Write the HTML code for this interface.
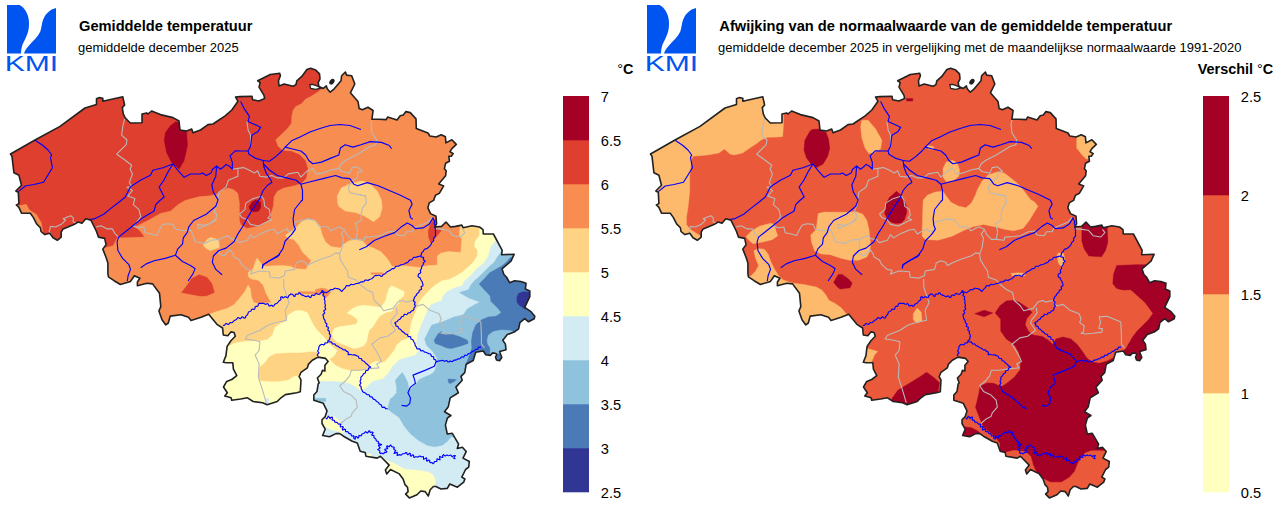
<!DOCTYPE html>
<html lang="nl"><head><meta charset="utf-8"><title>KMI - Gemiddelde temperatuur december 2025</title>
<style>html,body{margin:0;padding:0;background:#fff;}body{width:1280px;height:507px;overflow:hidden;}svg{display:block;}</style>
</head><body>
<svg width="1280" height="507" viewBox="0 0 1280 507" font-family="'Liberation Sans',sans-serif" fill="#000">
<defs><clipPath id="bel"><path d="M10.5 154.0 L35.0 140.0 L60.0 126.4 L85.0 108.0 L96.5 104.6 L96.5 98.8 L99.0 97.6 L102.8 98.3 L102.8 101.3 L122.8 96.8 L124.6 105.0 L122.3 107.6 L123.3 113.9 L125.3 118.0 L130.3 123.0 L142.0 122.7 L142.0 114.0 L146.6 113.0 L148.0 114.0 L151.6 111.0 L160.4 114.6 L173.0 117.6 L179.0 121.0 L180.0 130.0 L186.7 131.0 L191.7 129.0 L193.0 132.7 L200.5 130.0 L208.0 124.6 L213.0 124.0 L225.5 115.6 L231.8 110.0 L238.0 101.3 L235.6 97.0 L240.0 96.6 L252.0 96.3 L252.6 99.7 L259.0 101.0 L264.6 98.5 L264.0 95.3 L259.0 87.1 L260.2 82.7 L257.7 80.8 L270.3 74.5 L279.7 73.2 L280.4 75.8 L278.5 80.8 L279.0 85.9 L284.2 84.0 L293.0 86.2 L296.0 84.6 L296.8 80.8 L301.8 76.4 L306.9 69.5 L310.7 68.2 L315.7 70.1 L319.5 73.9 L320.0 78.9 L318.2 82.7 L318.9 86.5 L323.3 88.4 L326.4 85.9 L327.0 88.4 L330.2 92.2 L333.4 89.7 L341.0 80.8 L341.6 75.8 L345.4 72.0 L346.6 75.1 L351.7 75.8 L354.8 84.0 L350.4 92.8 L358.0 101.6 L359.2 108.6 L362.4 109.8 L368.0 107.3 L373.1 110.5 L371.9 119.3 L378.8 119.3 L386.3 119.6 L387.6 117.0 L397.0 119.9 L400.2 115.8 L403.3 114.9 L405.9 111.6 L410.3 112.6 L416.0 118.9 L416.3 128.4 L428.0 133.0 L429.8 136.0 L436.2 137.0 L441.2 134.7 L445.4 136.8 L445.9 142.9 L451.9 139.7 L456.3 144.4 L451.9 148.6 L450.0 151.7 L453.2 153.6 L451.3 156.2 L448.8 156.2 L449.4 161.2 L445.6 163.2 L444.4 168.8 L446.2 170.7 L445.6 175.8 L438.7 184.0 L443.7 185.9 L439.3 193.4 L435.5 195.3 L433.6 200.4 L429.2 202.9 L427.9 207.9 L430.5 213.6 L436.0 216.3 L436.6 223.9 L434.7 227.0 L441.6 226.4 L446.0 222.0 L450.5 227.0 L455.5 226.4 L461.8 225.1 L463.1 227.7 L471.9 225.8 L479.5 227.0 L483.0 229.6 L483.3 234.0 L493.4 234.0 L502.2 250.4 L501.6 254.8 L514.2 254.2 L511.0 261.1 L502.0 268.8 L503.9 274.5 L506.4 277.0 L509.6 282.7 L514.6 280.8 L520.9 281.5 L526.0 283.3 L525.4 289.0 L529.8 290.9 L529.8 296.6 L524.7 307.3 L531.0 311.7 L534.8 316.2 L534.2 318.7 L528.5 321.8 L524.7 318.7 L519.9 322.6 L518.6 328.9 L514.2 332.1 L507.3 334.6 L502.8 340.3 L505.4 344.1 L506.0 349.7 L499.7 351.6 L500.5 354.0 L501.8 357.5 L499.5 360.8 L496.5 360.0 L495.5 357.0 L496.8 354.5 L495.9 353.5 L492.7 352.9 L490.2 355.4 L485.8 354.8 L483.3 351.0 L475.7 352.3 L473.2 360.5 L466.2 364.3 L464.7 372.6 L461.0 376.4 L462.2 380.2 L455.9 387.1 L458.4 392.8 L450.2 397.9 L448.3 406.7 L444.5 411.7 L450.9 415.5 L447.3 418.2 L445.4 425.1 L447.3 434.0 L452.3 433.3 L458.6 444.1 L457.3 448.5 L462.4 447.2 L466.2 451.6 L463.0 458.1 L469.3 461.5 L468.7 467.2 L465.6 469.5 L461.8 477.1 L464.9 479.0 L463.7 482.1 L457.4 487.2 L449.8 484.0 L447.3 488.4 L441.0 489.0 L435.9 486.5 L433.4 486.5 L430.2 489.7 L428.3 496.0 L425.2 491.6 L420.8 491.0 L417.0 494.7 L409.4 497.9 L405.6 494.1 L408.1 491.6 L407.5 487.2 L405.0 484.6 L403.1 479.0 L399.3 473.9 L390.5 469.5 L386.7 473.9 L385.4 470.1 L389.2 465.1 L380.4 456.2 L377.2 458.1 L365.9 456.2 L365.2 452.5 L360.2 451.2 L357.3 443.1 L352.3 441.2 L343.5 436.2 L339.7 433.6 L335.9 433.6 L329.6 436.8 L322.6 435.5 L325.2 429.2 L322.0 423.5 L322.0 419.7 L325.2 416.6 L327.0 410.9 L323.3 403.3 L313.8 400.2 L313.8 395.1 L317.0 391.4 L318.2 383.8 L319.2 383.0 L317.4 378.0 L321.1 374.2 L322.4 370.4 L324.9 371.0 L324.9 365.3 L328.1 361.5 L325.6 358.4 L318.0 357.1 L312.3 360.3 L308.5 364.1 L307.3 367.9 L301.0 372.3 L299.1 376.7 L301.0 379.8 L300.3 391.8 L296.7 392.7 L285.4 394.6 L281.0 397.8 L277.2 401.5 L267.1 404.7 L262.6 402.8 L253.2 401.5 L247.5 397.8 L240.6 399.0 L231.7 400.3 L231.1 397.8 L224.8 395.9 L227.3 392.7 L223.5 387.0 L226.7 381.4 L231.7 379.5 L236.8 375.7 L233.4 369.1 L232.8 362.8 L226.5 362.8 L223.3 362.2 L225.9 355.9 L227.1 346.4 L230.9 340.7 L235.3 336.3 L234.1 332.5 L230.9 331.9 L227.8 335.7 L223.3 335.0 L222.6 328.0 L216.9 324.3 L208.7 314.2 L201.1 317.3 L191.0 320.5 L188.5 317.3 L180.9 314.8 L170.2 316.1 L168.3 323.0 L165.8 324.9 L162.0 319.8 L158.9 311.0 L160.8 306.6 L159.5 293.3 L152.6 283.9 L146.9 283.2 L137.4 285.8 L137.4 282.0 L139.9 278.2 L134.3 275.7 L130.5 281.4 L120.4 284.5 L114.1 280.7 L108.4 276.9 L107.9 273.7 L107.9 263.0 L106.0 257.3 L102.8 249.1 L106.0 244.7 L104.7 238.4 L98.4 237.1 L96.5 231.5 L90.9 220.1 L85.8 218.8 L82.0 223.2 L78.2 222.0 L75.1 223.9 L63.1 228.9 L61.2 232.1 L61.2 237.1 L57.4 240.3 L53.0 237.8 L49.8 233.3 L44.8 234.6 L41.0 231.5 L40.4 227.7 L36.6 223.9 L33.4 217.6 L30.3 213.2 L21.5 213.2 L18.9 207.4 L16.4 204.9 L18.9 203.6 L18.3 192.3 L15.8 191.0 L21.5 185.3 L18.9 175.2 L13.9 172.7 L12.0 156.3Z"/></clipPath></defs>
<rect width="1280" height="507" fill="#fff"/>
<g transform="translate(0,0)" fill="#0055f0">
<path d="M7 5 L19.5 5 C24 7 28.5 13 29 22 C29.3 30 27.5 34 25 39.5 C22.5 44 21.3 47 21 53.5 L7 53.5 Z"/>
<path d="M56 8 C50 9.5 45.5 13.5 43 20 C41.5 24 41.6 28 40.3 31.5 C38 36.5 33 41 29 45.5 C26.5 48.5 24.8 50.5 24 53.5 L56 53.5 Z"/>
<text x="4.7" y="70.6" font-family="'Liberation Sans',sans-serif" font-size="21.2" textLength="53.4" lengthAdjust="spacingAndGlyphs" fill="#0055f0">KMI</text>
</g><g transform="translate(640,0)" fill="#0055f0">
<path d="M7 5 L19.5 5 C24 7 28.5 13 29 22 C29.3 30 27.5 34 25 39.5 C22.5 44 21.3 47 21 53.5 L7 53.5 Z"/>
<path d="M56 8 C50 9.5 45.5 13.5 43 20 C41.5 24 41.6 28 40.3 31.5 C38 36.5 33 41 29 45.5 C26.5 48.5 24.8 50.5 24 53.5 L56 53.5 Z"/>
<text x="4.7" y="70.6" font-family="'Liberation Sans',sans-serif" font-size="21.2" textLength="53.4" lengthAdjust="spacingAndGlyphs" fill="#0055f0">KMI</text>
</g>
<text x="79" y="30.8" font-size="14.67" font-weight="bold">Gemiddelde temperatuur</text>
<text x="78" y="51.8" font-size="12.96">gemiddelde december 2025</text>
<text x="719.3" y="30.8" font-size="14.67" font-weight="bold">Afwijking van de normaalwaarde van de gemiddelde temperatuur</text>
<text x="718" y="51.8" font-size="12.96">gemiddelde december 2025 in vergelijking met de maandelijkse normaalwaarde 1991-2020</text>
<text x="617.2" y="73.8" font-size="14.4" font-weight="bold"><tspan font-weight="normal">°</tspan>C</text>
<text x="1197.8" y="73.8" font-size="14.4" font-weight="bold">Verschil <tspan font-weight="normal">°</tspan>C</text>
<g transform="translate(0,0)"><g clip-path="url(#bel)"><rect x="0" y="60" width="640" height="447" fill="#de3f2e"/><path d="M330.0 60.0 L323.3 88.4 L320.8 89.7 L315.7 93.4 L310.7 96.6 L305.6 99.1 L301.8 103.5 L295.5 106.7 L293.0 110.5 L291.7 116.8 L291.5 123.0 L288.0 128.0 L283.2 132.7 L275.7 139.7 L278.1 146.3 L282.8 150.3 L291.5 151.0 L299.4 154.2 L305.7 160.5 L308.0 168.4 L306.5 177.9 L301.7 183.4 L294.6 185.7 L283.6 188.1 L277.3 191.3 L274.1 196.8 L273.3 206.2 L271.0 214.1 L270.7 219.6 L260.7 225.8 L246.9 228.4 L240.6 224.6 L239.4 219.7 L239.4 203.1 L237.9 193.6 L233.9 189.7 L228.4 188.1 L222.1 190.5 L215.8 194.4 L207.9 196.0 L200.0 196.5 L192.0 198.5 L184.9 200.5 L177.8 204.7 L170.7 211.0 L160.4 213.4 L149.4 219.7 L135.2 226.8 L139.9 230.8 L144.7 237.1 L117.1 237.9 L113.1 245.7 L103.7 248.1 L95.0 255.0 L95.0 520.0 L600.0 520.0 L600.0 50.0Z" fill="#f88d52" stroke="#f88d52" stroke-width="0.4"/><path d="M15.0 205.0 L20.0 205.5 L26.3 204.2 L29.0 209.5 L36.5 214.5 L41.5 223.0 L43.0 233.0 L30.0 232.0 L15.0 214.0Z" fill="#f88d52" stroke="#f88d52" stroke-width="0.4"/><path d="M181.5 292.5 L186.7 286.0 L191.7 278.5 L199.2 274.7 L206.8 277.2 L211.8 283.5 L214.4 292.5 L206.0 296.0 L199.9 296.0 L193.0 294.8Z" fill="#de3f2e" stroke="#de3f2e" stroke-width="0.4"/><path d="M433.3 220.0 L430.2 224.7 L428.3 231.0 L428.6 237.3 L430.7 242.8 L434.1 238.9 L440.4 231.8 L441.2 230.2 L436.0 228.6 L437.0 223.0 L436.4 218.0Z" fill="#de3f2e" stroke="#de3f2e" stroke-width="0.4"/><path d="M175.4 122.0 L170.4 125.7 L165.4 132.7 L164.2 140.2 L166.7 152.7 L171.7 162.8 L179.2 169.0 L184.2 160.3 L187.5 145.2 L186.7 134.0 L186.9 128.0 L180.0 128.0 L179.4 122.0Z" fill="#a50026" stroke="#a50026" stroke-width="0.4"/><path d="M248.9 207.0 L252.0 202.3 L256.0 199.6 L260.7 202.3 L260.7 207.8 L258.4 211.3 L253.6 211.8 L250.2 210.2Z" fill="#a50026" stroke="#a50026" stroke-width="0.4"/><path d="M203.2 245.0 L207.1 239.4 L210.3 237.5 L215.8 238.8 L219.4 241.3 L218.9 247.6 L210.3 250.8 L205.5 248.1Z" fill="#fed384" stroke="#fed384" stroke-width="0.4"/><path d="M361.7 181.0 L357.7 181.8 L349.0 184.2 L341.2 188.1 L337.2 196.0 L337.5 202.0 L338.8 206.3 L345.1 211.0 L355.4 212.6 L364.0 215.8 L373.5 221.8 L379.8 216.6 L382.2 207.9 L381.4 200.0 L377.4 191.3 L371.1 185.0 L365.6 181.8Z" fill="#fed384" stroke="#fed384" stroke-width="0.4"/><path d="M209.5 314.2 L215.8 311.8 L226.8 308.6 L233.9 304.7 L239.4 298.4 L245.0 291.3 L248.1 285.0 L250.5 288.9 L251.3 296.8 L253.6 302.3 L259.1 303.9 L271.0 302.3 L266.2 293.7 L263.1 285.0 L258.4 280.3 L250.5 278.7 L248.1 276.3 L248.5 272.0 L252.8 269.4 L255.2 262.3 L257.1 258.0 L260.7 263.1 L263.1 266.2 L282.0 265.5 L290.7 266.2 L294.6 268.6 L305.7 269.4 L311.2 260.7 L307.3 256.8 L302.5 252.1 L298.6 245.0 L293.8 239.4 L288.3 238.6 L285.2 235.5 L290.7 231.5 L296.2 227.6 L300.9 222.1 L308.0 218.9 L315.1 220.5 L319.9 226.0 L322.2 234.7 L325.4 241.8 L330.9 246.5 L340.4 248.1 L342.7 245.0 L348.3 241.0 L355.4 239.4 L362.5 241.0 L367.2 245.7 L373.5 248.1 L381.4 252.1 L387.7 259.1 L391.5 265.5 L393.1 266.6 L404.2 265.8 L419.9 267.4 L426.2 265.8 L437.3 265.0 L437.3 256.3 L440.4 253.2 L448.3 251.6 L460.9 252.4 L461.8 239.0 L459.3 235.2 L459.9 227.7 L459.9 215.0 L600.0 215.0 L600.0 520.0 L100.0 520.0Z" fill="#fed384" stroke="#fed384" stroke-width="0.4"/><path d="M298.6 291.8 L316.7 291.8 L316.7 293.7 L298.6 293.7Z" fill="#f88d52" stroke="#f88d52" stroke-width="0.4"/><path d="M315.1 289.7 L321.5 288.1 L326.2 288.9 L330.9 292.1 L327.8 296.0 L324.6 298.4 L322.2 293.7 L316.7 293.7Z" fill="#f88d52" stroke="#f88d52" stroke-width="0.4"/><path d="M371.1 272.8 L383.0 272.8 L383.0 274.2 L371.1 274.2Z" fill="#f88d52" stroke="#f88d52" stroke-width="0.4"/><path d="M391.8 285.8 L397.3 288.3 L404.3 291.7 L403.6 295.9 L400.8 298.6 L398.0 300.0 L399.4 302.8 L395.3 306.9 L391.8 311.1 L384.9 313.1 L379.4 316.6 L376.6 320.7 L373.2 326.3 L369.0 330.4 L367.7 335.2 L367.0 340.8 L364.2 345.6 L358.7 347.7 L353.8 348.4 L347.6 346.0 L340.7 343.5 L335.9 341.5 L333.1 338.0 L332.2 333.2 L333.8 329.0 L338.0 327.0 L347.6 325.6 L355.9 324.2 L358.0 321.4 L356.6 318.7 L351.8 315.2 L346.9 313.1 L351.8 309.0 L357.3 306.2 L364.2 305.3 L372.5 306.2 L380.8 307.6 L382.2 305.6 L385.6 300.7 L387.0 294.5 L389.1 288.3Z" fill="#ffffbf" stroke="#ffffbf" stroke-width="0.4"/><path d="M222.0 349.0 L226.0 348.0 L233.9 343.3 L242.6 341.8 L252.1 341.0 L260.7 341.0 L267.8 339.4 L272.6 334.7 L274.9 327.6 L280.4 323.6 L286.0 321.3 L288.3 315.0 L294.6 311.0 L300.9 310.2 L307.3 312.6 L310.4 318.9 L313.6 325.2 L318.3 331.5 L321.5 334.7 L326.2 339.5 L327.8 342.6 L337.2 350.5 L334.1 356.0 L329.3 359.2 L335.6 365.5 L342.0 368.6 L351.4 371.0 L360.9 370.2 L366.3 368.8 L372.6 362.5 L376.4 361.3 L384.0 362.5 L389.3 356.8 L394.6 349.8 L396.7 344.9 L401.5 340.8 L408.4 338.0 L409.8 332.5 L411.2 322.8 L413.9 315.9 L416.7 309.0 L418.8 302.8 L422.9 297.3 L429.1 290.4 L434.6 285.5 L442.0 280.8 L449.9 279.2 L456.2 276.0 L462.5 272.1 L468.8 266.6 L473.6 261.8 L477.5 255.5 L477.5 250.0 L474.4 246.6 L475.1 241.5 L479.5 235.2 L479.5 228.9 L480.0 215.0 L600.0 215.0 L600.0 520.0 L150.0 520.0 L150.0 360.0Z" fill="#ffffbf" stroke="#ffffbf" stroke-width="0.4"/><path d="M259.9 367.1 L264.7 363.1 L269.4 356.8 L275.7 353.7 L288.3 352.9 L300.9 352.9 L310.4 351.8 L316.7 352.1 L319.0 356.0 L310.0 363.9 L303.0 371.8 L300.0 375.7 L294.6 375.7 L288.3 379.7 L278.9 381.3 L267.8 381.3 L259.9 380.5 L258.4 374.2Z" fill="#fed384" stroke="#fed384" stroke-width="0.4"/><path d="M305.0 381.0 L320.8 381.3 L328.3 381.3 L340.9 381.9 L348.5 383.2 L353.6 385.7 L358.6 389.5 L361.1 391.4 L364.9 388.8 L372.6 381.5 L382.7 378.9 L389.0 372.6 L392.8 366.3 L399.1 360.0 L407.6 357.3 L415.1 355.4 L418.9 350.4 L416.4 342.8 L417.7 335.2 L420.8 326.4 L424.6 317.6 L427.8 310.0 L430.2 305.2 L435.7 302.8 L442.0 300.5 L442.8 296.5 L446.7 291.8 L454.6 287.9 L462.5 285.5 L464.1 281.5 L470.4 276.0 L477.5 268.1 L483.8 263.4 L487.8 257.1 L490.1 250.0 L490.9 246.6 L495.3 241.5 L500.0 230.0 L600.0 230.0 L600.0 520.0 L305.0 520.0Z" fill="#d3ecf4" stroke="#d3ecf4" stroke-width="0.4"/><path d="M265.5 398.6 L268.6 398.6 L268.8 406.0 L265.0 406.0Z" fill="#d3ecf4" stroke="#d3ecf4" stroke-width="0.4"/><path d="M325.8 416.6 L333.4 416.0 L337.8 419.1 L340.9 423.5 L342.2 428.0 L340.9 432.4 L337.2 431.1 L330.9 429.8 L325.8 426.7 L321.0 424.2 L321.0 418.0Z" fill="#ffffbf" stroke="#ffffbf" stroke-width="0.4"/><path d="M340.0 424.5 L345.0 427.0 L345.7 430.2 L342.5 433.3 L339.0 433.5Z" fill="#ffffbf" stroke="#ffffbf" stroke-width="0.4"/><path d="M367.0 454.0 L371.5 454.0 L371.5 457.5 L366.0 457.5Z" fill="#ffffbf" stroke="#ffffbf" stroke-width="0.4"/><path d="M380.0 456.0 L388.0 461.3 L394.3 463.2 L400.6 467.0 L405.6 469.5 L415.7 470.1 L425.8 471.4 L430.9 473.3 L434.0 476.4 L435.3 480.9 L434.7 485.3 L434.0 488.0 L430.0 491.0 L428.3 500.0 L400.0 505.0 L380.0 480.0Z" fill="#ffffbf" stroke="#ffffbf" stroke-width="0.4"/><path d="M500.9 252.3 L497.2 257.3 L494.1 262.6 L489.3 266.6 L484.6 271.3 L479.9 276.0 L474.4 280.8 L470.4 285.5 L468.8 289.4 L459.4 292.6 L468.8 298.1 L479.9 302.1 L473.6 305.2 L467.3 309.1 L463.3 314.7 L453.8 317.0 L448.3 319.4 L440.4 322.6 L431.8 324.9 L429.0 330.2 L424.6 339.0 L426.5 345.3 L432.8 351.6 L437.2 358.6 L437.0 363.0 L436.3 366.3 L434.4 371.4 L430.7 374.5 L423.1 377.7 L419.3 379.6 L415.5 384.6 L410.5 389.0 L408.6 388.4 L407.9 382.7 L404.8 376.4 L402.3 372.6 L399.1 375.8 L395.3 380.2 L396.6 387.1 L396.6 392.8 L393.4 396.6 L390.3 399.1 L388.4 405.4 L387.8 409.2 L392.8 413.0 L399.1 417.4 L404.4 426.4 L410.7 434.0 L418.2 440.3 L427.1 445.3 L434.6 446.8 L442.2 445.3 L447.3 441.5 L451.0 437.1 L470.0 437.0 L600.0 437.0 L600.0 240.0 L505.0 240.0Z" fill="#8fc3dd" stroke="#8fc3dd" stroke-width="0.4"/><path d="M312.0 398.3 L325.8 398.3 L325.8 401.5 L312.0 401.5Z" fill="#8fc3dd" stroke="#8fc3dd" stroke-width="0.4"/><path d="M516.0 250.0 L513.8 256.3 L509.8 257.9 L506.7 261.8 L502.0 265.8 L496.4 268.9 L489.3 272.9 L484.6 278.4 L479.1 283.9 L486.2 291.8 L490.1 295.7 L490.9 301.3 L497.2 307.6 L501.2 312.3 L499.7 313.8 L495.9 316.3 L488.3 316.9 L482.0 319.5 L475.7 325.1 L472.6 332.7 L471.3 341.5 L471.9 347.9 L470.7 351.6 L468.8 356.7 L466.9 361.7 L465.0 366.0 L480.0 370.0 L600.0 370.0 L600.0 250.0Z" fill="#4a7bb7" stroke="#4a7bb7" stroke-width="0.4"/><path d="M487.1 340.3 L488.3 335.2 L493.4 331.5 L500.9 329.9 L508.5 330.2 L512.0 331.0 L520.0 340.0 L510.0 353.0 L499.7 353.5 L492.7 354.0 L490.2 355.5 L490.2 347.9 L487.7 344.1Z" fill="#8fc3dd" stroke="#8fc3dd" stroke-width="0.4"/><path d="M434.1 340.3 L437.9 334.0 L441.6 331.5 L443.5 334.0 L453.0 334.6 L460.6 337.1 L467.5 340.3 L468.1 343.4 L460.6 346.0 L451.7 348.5 L446.7 347.9 L440.4 345.3 L435.3 343.4Z" fill="#4a7bb7" stroke="#4a7bb7" stroke-width="0.4"/><path d="M448.3 378.9 L456.5 379.6 L453.4 382.1 L449.6 383.7 L448.1 381.5Z" fill="#4a7bb7" stroke="#4a7bb7" stroke-width="0.4"/><path d="M516.9 297.3 L518.5 293.4 L523.2 291.8 L528.8 292.0 L532.0 292.0 L532.0 300.0 L526.0 309.0 L524.0 308.4 L519.3 305.2 L516.9 302.1Z" fill="#313695" stroke="#313695" stroke-width="0.4"/><path d="M124.6 118.9 L122.8 126.4 L121.6 135.2 L127.0 140.0 L126.2 144.7 L116.7 154.2 L124.6 159.7 L131.7 165.2 L130.1 169.2 L132.5 173.9 L129.3 182.6 L131.7 186.5 L127.0 187.3 L132.5 190.5 L127.8 196.0 L134.9 198.4 L133.3 204.7 L138.8 209.4 L140.7 216.6 L133.8 226.4 L138.8 227.7 L143.9 227.0 L145.1 232.7 L151.4 234.0 L156.5 235.5 L158.9 230.8 L162.0 225.2 L166.7 223.7 L173.1 224.4 L175.4 229.2 L184.1 230.8 L190.4 230.0 L193.6 236.3 L195.1 241.8 L204.6 243.4 L210.9 240.2 L218.9 239.4 L227.6 235.5 L230.8 238.6 L236.3 239.4 L239.4 242.6 L247.3 240.2 L250.5 234.7 L253.6 237.9 L259.9 233.9 L269.4 230.0 L274.1 229.2 L277.3 233.9 L282.8 230.8 L287.5 228.4 L288.3 231.5 L294.6 230.8 L294.6 222.1 L300.9 220.5 L308.8 218.9 L315.1 220.5 L319.9 226.8 L327.8 226.8 L330.9 230.8 L338.8 226.8 L344.3 229.2 L346.7 234.7 L351.4 239.4 L356.2 239.4 L364.0 240.2 L364.8 237.1 L374.2 236.5 L380.5 235.7 L388.4 231.8 L394.7 231.0 L397.1 235.0 L404.2 235.7 L406.5 231.8 L412.1 231.8 L413.6 228.6 L419.9 225.5 L427.8 222.3 L431.8 217.6" fill="none" stroke="#b9b9b9" stroke-width="1.1" stroke-linejoin="round"/><path d="M50.5 226.4 L55.5 227.0 L61.8 223.9 L65.6 220.1 L63.1 218.8 L70.7 215.7 L73.2 217.6 L73.2 222.0 L75.7 222.6" fill="none" stroke="#b9b9b9" stroke-width="1.1" stroke-linejoin="round"/><path d="M50.5 226.4 L49.2 231.5 L51.7 235.2" fill="none" stroke="#b9b9b9" stroke-width="1.1" stroke-linejoin="round"/><path d="M95.9 227.0 L100.9 225.8 L107.3 228.9 L112.3 228.9 L114.8 233.3 L118.6 237.1" fill="none" stroke="#b9b9b9" stroke-width="1.1" stroke-linejoin="round"/><path d="M246.9 121.4 L248.1 130.2 L250.6 135.2 L250.6 145.2" fill="none" stroke="#b9b9b9" stroke-width="1.1" stroke-linejoin="round"/><path d="M232.3 169.2 L237.9 168.4 L243.4 167.6 L248.9 170.0 L254.4 173.1 L257.6 170.8 L259.9 176.3 L266.2 177.1 L271.8 175.5 L277.3 177.9 L283.6 177.9 L288.3 173.9 L297.8 172.3 L300.9 177.1 L307.3 170.8 L312.8 168.4 L315.9 173.9 L323.0 173.1 L330.9 170.0 L338.8 168.4 L341.2 163.7 L346.7 159.7 L356.2 155.0 L364.0 150.3 L370.3 146.3 L375.9 144.7 L376.7 140.0 L372.0 133.0 L371.0 125.0 L372.0 119.5" fill="none" stroke="#b9b9b9" stroke-width="1.1" stroke-linejoin="round"/><path d="M338.8 168.4 L342.0 171.5 L349.8 173.1 L352.2 167.6 L357.7 166.8 L362.5 171.5 L357.7 172.3 L357.7 177.1 L351.4 181.8 L348.3 187.3 L349.8 192.8 L357.7 194.4 L365.6 196.0 L366.4 203.1 L362.5 207.8 L360.9 215.7 L361.7 219.7 L355.4 223.7 L357.7 231.5 L356.2 239.4" fill="none" stroke="#b9b9b9" stroke-width="1.1" stroke-linejoin="round"/><path d="M237.9 169.2 L237.9 176.3 L228.4 180.2 L226.0 187.3 L218.9 192.1 L218.1 196.8 L217.0 205.0 L214.2 211.8 L216.6 214.2 L215.8 220.5 L209.5 223.7 L204.7 226.0 L198.3 228.4 L197.5 224.4 L204.6 225.2 L210.9 222.9 L216.4 218.1" fill="none" stroke="#b9b9b9" stroke-width="1.1" stroke-linejoin="round"/><path d="M239.4 214.1 L245.0 209.4 L245.7 203.1 L252.1 199.1 L261.5 196.0 L263.9 199.9 L264.7 206.2 L269.4 209.4 L270.2 215.7 L267.8 218.1 L271.8 219.7 L269.4 220.5 L258.4 226.0 L250.5 224.4 L247.3 219.7 L241.8 217.4 L239.4 214.1" fill="none" stroke="#b9b9b9" stroke-width="1.1" stroke-linejoin="round"/><path d="M218.9 239.4 L219.7 247.3 L218.9 253.6 L223.7 256.0 L230.0 249.7 L233.1 253.6 L233.9 256.8 L239.4 259.9 L241.8 264.7 L247.3 269.4 L252.1 270.2 L250.5 274.1 L259.1 271.0 L269.4 271.8 L270.2 277.3 L278.9 278.1 L284.4 275.7 L285.2 271.0 L294.6 269.4 L296.2 263.1 L300.9 260.7 L305.7 262.3 L307.3 265.5 L313.6 262.3 L321.5 259.1 L330.9 256.0 L335.6 252.9 L339.6 253.6 L342.0 248.1 L343.5 237.9 L341.2 233.9 L344.3 230.0" fill="none" stroke="#b9b9b9" stroke-width="1.1" stroke-linejoin="round"/><path d="M339.6 253.6 L340.4 259.9 L344.3 266.2 L347.5 271.0 L348.3 277.3 L356.2 280.0 L360.4 284.7 L366.3 289.4 L372.6 292.6 L374.2 300.5 L380.5 306.0 L383.7 310.7 L393.1 308.4 L397.9 302.1 L402.6 300.5 L405.7 302.1 L412.8 300.5 L416.8 306.0 L423.1 304.4 L429.4 309.9 L439.1 313.8 L441.0 318.8 L439.7 322.6 L444.2 325.8 L443.5 332.1 L441.0 333.3 L445.4 334.0 L453.0 333.3 L461.8 332.1 L462.5 328.9 L458.7 328.3 L460.6 322.6 L459.3 316.9 L466.9 316.3 L473.2 318.8 L480.8 322.0 L481.4 335.2 L481.4 344.1 L484.5 347.8" fill="none" stroke="#b9b9b9" stroke-width="1.1" stroke-linejoin="round"/><path d="M396.3 307.6 L397.1 313.1 L391.5 320.2 L390.5 322.7 L395.5 330.2 L387.7 336.3 L379.8 337.9 L371.9 344.2 L375.9 350.5 L379.8 357.6 L381.4 361.5 L376.7 363.9 L379.0 367.9 L370.3 368.6 L359.3 370.2 L351.4 370.2 L349.8 375.7 L345.1 381.3 L339.7 385.7 L343.5 391.4 L351.0 395.1 L356.1 400.2 L357.3 407.1 L352.3 412.8 L351.0 416.6 L346.0 419.1 L340.9 423.5" fill="none" stroke="#b9b9b9" stroke-width="1.1" stroke-linejoin="round"/><path d="M283.6 278.9 L283.9 287.6 L286.5 295.1 L289.0 302.7 L285.2 310.2 L286.5 320.2 L275.2 322.7 L267.7 325.2 L260.1 330.2 L247.6 335.2 L245.1 339.0 L253.9 340.2 L259.9 341.8 L259.1 350.5 L255.2 355.2 L259.1 363.9 L258.4 377.3 L261.5 386.8 L263.9 394.7 L266.2 402.6" fill="none" stroke="#b9b9b9" stroke-width="1.1" stroke-linejoin="round"/><path d="M435.7 228.6 L442.0 229.4 L448.3 230.2 L453.1 235.7 L460.9 237.0 L464.9 232.6 L462.5 229.4" fill="none" stroke="#b9b9b9" stroke-width="1.1" stroke-linejoin="round"/><path d="M360.0 194.7 L366.3 196.3" fill="none" stroke="#b9b9b9" stroke-width="1.1" stroke-linejoin="round"/><path d="M35.0 140.2 L42.6 145.2 L48.0 150.0 L51.7 155.0 L50.5 157.6 L52.4 167.7 L48.0 175.0 L43.5 182.2 L34.0 184.5 L25.2 186.0 L18.3 191.6" fill="none" stroke="#0000ff" stroke-width="1.15" stroke-linejoin="round"/><path d="M240.6 101.4 L244.4 108.9 L249.4 116.4 L248.1 121.4 L260.7 127.2 L258.1 131.4 L251.9 135.2 L251.3 140.0 L250.5 146.3 L248.1 151.0 L248.9 154.2 L255.2 158.1 L263.1 160.5" fill="none" stroke="#0000ff" stroke-width="1.15" stroke-linejoin="round"/><path d="M248.1 151.0 L241.0 151.0 L235.5 150.7 L230.0 155.8 L232.3 162.1 L232.3 169.2 L229.2 166.0 L226.0 164.4 L223.7 166.8 L220.5 169.2 L216.6 166.0 L212.6 169.2 L211.0 173.1 L206.3 175.5 L202.4 173.1 L200.0 174.0 L190.5 174.0 L184.2 177.3 L177.9 170.3 L172.9 164.0 L162.9 167.8 L152.9 170.3 L150.4 175.3 L140.4 180.3 L132.8 185.3 L130.3 187.0 L125.3 197.0 L117.9 203.0 L111.5 207.9 L103.7 214.2 L94.2 218.9 L87.9 219.7" fill="none" stroke="#0000ff" stroke-width="1.15" stroke-linejoin="round"/><path d="M172.9 164.0 L168.0 172.0 L164.0 180.0 L159.1 187.0 L164.2 197.0 L160.4 200.0 L155.7 204.7 L154.1 211.0 L143.1 217.4 L133.6 225.2 L125.7 231.5 L118.6 237.1 L117.1 241.8 L117.9 250.5 L122.6 258.4 L128.9 264.7 L130.5 269.4 L128.1 275.7 L127.3 281.0" fill="none" stroke="#0000ff" stroke-width="1.15" stroke-linejoin="round"/><path d="M216.6 166.8 L215.8 176.3 L211.8 185.0 L213.4 192.1 L218.1 199.9 L215.8 206.2 L206.2 214.2 L193.6 220.5 L188.8 226.8 L187.3 232.3 L183.3 237.9 L182.5 244.2 L177.8 248.9 L175.4 255.2 L182.5 261.5 L190.4 265.5 L195.1 268.6 L192.8 274.1 L188.0 281.0" fill="none" stroke="#0000ff" stroke-width="1.15" stroke-linejoin="round"/><path d="M175.4 255.2 L165.2 258.4 L154.1 260.7 L146.2 263.9 L140.7 267.8" fill="none" stroke="#0000ff" stroke-width="1.15" stroke-linejoin="round"/><path d="M263.1 160.5 L269.4 161.3 L275.7 156.6 L282.0 151.0 L285.2 147.1 L291.5 140.8 L300.0 137.0 L310.0 132.0 L320.0 128.5 L330.0 125.5 L340.0 124.5 L350.0 125.5 L361.0 129.5" fill="none" stroke="#0000ff" stroke-width="1.15" stroke-linejoin="round"/><path d="M285.2 147.1 L291.5 148.7 L300.9 151.0 L305.7 155.0 L308.8 160.5 L312.8 163.7 L321.5 162.1 L330.9 158.1 L338.8 155.0 L340.4 147.9 L345.1 144.7 L353.0 147.1 L360.9 144.7 L370.3 141.6 L381.4 142.4 L389.3 145.5 L391.6 148.7" fill="none" stroke="#0000ff" stroke-width="1.15" stroke-linejoin="round"/><path d="M263.1 160.5 L263.9 166.8 L266.2 173.1 L271.0 180.2 L271.8 182.6 L267.8 185.0 L263.1 190.5 L259.9 198.4 L253.6 207.8 L247.3 218.1 L242.6 226.8 L237.9 233.9 L233.9 241.8 L226.0 248.1 L218.9 250.5 L213.4 256.0 L212.3 262.3 L215.8 269.4 L222.1 274.7" fill="none" stroke="#0000ff" stroke-width="1.15" stroke-linejoin="round"/><path d="M263.5 164.0 L269.4 170.0 L277.3 175.5 L286.8 177.9 L296.2 180.2 L300.9 184.2 L310.4 181.8 L323.0 178.6 L335.6 175.5 L342.0 177.9 L349.8 178.6 L353.8 184.2 L357.7 185.7 L367.2 182.6 L378.2 185.7 L389.3 190.5 L399.4 194.7 L410.5 200.3 L412.1 204.2 L408.9 210.5 L410.5 217.6 L412.8 219.2" fill="none" stroke="#0000ff" stroke-width="1.15" stroke-linejoin="round"/><path d="M300.9 184.2 L302.5 190.5 L302.5 200.0 L300.9 201.5 L294.6 209.5 L293.1 218.9 L293.8 225.2 L295.4 229.2 L291.5 234.7 L285.2 241.0 L282.8 248.9 L277.3 256.8 L269.4 260.7 L263.1 264.7 L262.3 268.6" fill="none" stroke="#0000ff" stroke-width="1.15" stroke-linejoin="round"/><path d="M433.3 217.6 L429.4 223.9 L423.1 227.9 L415.2 228.6 L412.1 225.5 L407.3 223.1 L401.0 227.1 L394.7 232.6 L383.7 236.5 L374.2 240.5 L366.3 246.8 L359.3 249.7" fill="none" stroke="#0000ff" stroke-width="1.15" stroke-linejoin="round"/><path d="M433.3 217.6 L433.2 218.5 L433.3 219.3 L433.8 220.0 L434.4 220.7 L434.6 221.4 L434.5 222.3 L434.2 223.2 L434.3 224.0 L434.8 224.7 L435.2 225.5 L435.3 226.4 L435.1 227.3 L435.1 228.2 L435.2 229.0 L435.3 229.9 L435.5 230.7 L435.6 231.6 L435.5 232.5 L435.4 233.4 L435.5 234.1 L435.5 235.0 L435.5 235.9 L435.1 236.7 L434.4 237.3 L433.8 238.0 L433.6 238.8 L433.7 239.8 L433.7 240.7 L433.1 241.3 L432.4 241.9 L431.8 242.5 L431.4 243.2 L431.2 244.0 L430.8 244.8 L430.3 245.4 L429.8 246.1 L429.3 246.7 L428.6 247.1 L428.0 247.7 L427.4 248.3 L426.7 248.8 L425.9 248.9 L425.0 249.1 L424.3 249.5 L423.8 250.3 L423.5 250.9 L423.1 251.6 L422.3 252.2 L421.7 252.8 L421.4 253.6 L421.3 254.5 L421.1 255.3 L420.5 256.1 L419.6 256.2 L418.7 256.4 L417.9 256.6 L417.1 256.9 L416.2 257.3 L415.3 257.4 L414.4 257.4 L413.4 257.5 L412.9 258.2 L412.4 259.0 L411.9 259.6 L411.1 259.8 L410.2 259.9 L409.4 260.2 L408.9 260.9 L408.4 261.7 L407.9 262.3 L407.1 262.6 L406.3 262.9 L405.6 263.2 L404.9 263.6 L404.1 264.0 L403.4 264.3 L402.6 264.5 L401.8 264.7 L400.9 264.8 L400.2 265.1 L399.5 265.6 L398.8 266.1 L398.0 266.3 L397.0 266.2 L396.1 266.2 L395.4 266.7 L394.9 267.6 L394.3 268.3 L393.5 268.6 L392.6 268.6 L391.8 268.9 L391.1 269.4 L390.5 270.0 L389.8 270.5 L389.0 270.9 L388.2 271.2 L387.5 271.6 L386.8 272.0 L386.2 272.7 L385.6 273.4 L384.9 273.9 L384.0 274.2 L383.2 274.6 L382.7 275.3 L382.1 276.3 L381.1 276.4 L380.3 275.8 L379.5 275.3 L378.5 275.2 L377.6 275.5 L376.7 275.6 L375.9 275.3 L375.1 275.7 L374.3 276.2 L373.7 276.9 L373.1 277.5 L372.4 278.1 L371.7 278.7 L371.0 279.0 L370.1 279.2 L369.4 279.5 L368.7 280.1 L368.0 280.4 L367.1 280.3 L366.2 280.1 L365.4 280.1 L364.6 280.6 L364.0 281.4 L363.3 281.8 L362.4 281.8 L361.5 281.8 L360.7 282.0 L360.0 282.5 L359.3 282.9 L358.5 283.2 L357.7 283.4 L356.9 283.5 L356.1 283.6 L355.3 283.8 L354.6 284.2 L353.8 284.5 L353.0 284.6 L352.2 284.5 L351.3 284.3 L350.6 284.6 L349.9 285.2 L349.2 285.8 L348.3 285.8 L347.5 285.6 L346.4 285.6 L346.0 286.2 L345.7 287.0 L345.3 287.8 L344.7 288.3 L344.1 288.9 L343.5 289.4 L343.0 290.0 L342.5 290.7 L341.9 291.4 L341.2 291.0 L340.6 290.4 L340.1 289.8 L339.4 289.2 L338.6 288.9 L337.7 288.8 L337.3 288.6 L336.5 288.5 L335.5 288.2 L334.7 288.2 L334.0 288.7 L333.3 289.3 L332.6 289.6 L331.7 289.6 L330.8 289.6 L330.1 290.0 L329.5 290.6 L328.9 291.1 L328.3 291.6 L327.6 292.0 L326.8 292.4 L326.3 292.7 L325.5 292.3 L324.5 292.1 L323.6 291.8 L323.0 291.0 L322.2 290.5" fill="none" stroke="#0000ff" stroke-width="1.15" stroke-linejoin="round"/><path d="M420.5 256.0 L421.1 257.0 L422.3 257.1 L423.7 257.5 L423.4 258.6 L423.3 259.7 L424.2 260.3 L425.2 261.2 L424.6 261.9 L423.6 262.4 L423.3 263.2 L423.2 264.2 L422.9 265.0 L422.3 265.7 L421.8 266.5 L421.5 267.4 L421.5 268.2 L421.3 269.0 L420.7 269.7 L420.3 270.4 L420.5 271.3 L420.8 272.3 L420.5 273.0 L419.7 273.4 L418.8 273.7 L418.5 274.9 L418.1 274.8 L418.1 275.9 L418.3 276.8 L419.0 277.3 L419.8 277.7 L420.3 278.4 L420.6 279.2 L421.0 280.0 L421.5 280.8 L422.0 281.5 L422.4 282.3 L422.5 283.2 L422.9 283.8 L423.0 284.8 L422.9 285.7 L422.0 286.2 L421.1 286.8 L421.2 287.7 L421.6 288.8 L421.1 289.7 L419.9 289.9 L419.2 290.5 L419.1 291.5 L418.8 292.4 L417.9 292.9 L417.2 293.4 L416.7 294.2 L416.4 294.9 L416.0 295.6 L415.4 296.2 L414.8 296.8 L414.4 297.5 L414.3 298.4 L414.0 298.8 L413.7 299.7 L413.4 300.6 L414.0 301.3 L414.9 301.9 L415.1 302.7 L414.6 303.7 L414.4 304.6 L415.1 305.2 L415.3 306.1 L414.9 306.9 L414.2 307.5 L413.9 308.3 L413.9 309.1 L413.7 310.0 L413.0 310.4 L412.2 310.7 L411.5 311.1 L410.9 311.7 L410.4 312.4 L409.7 312.8 L408.8 312.8 L407.9 313.0 L407.4 314.0 L406.8 314.7 L405.8 314.5 L404.7 314.2 L404.0 314.8 L403.7 315.8 L403.0 316.4 L401.9 316.6 L401.2 317.2 L400.8 318.2 L400.2 318.9 L399.4 319.4 L398.6 319.8 L398.0 320.5 L397.5 321.2 L396.8 321.8 L395.9 322.0 L395.1 322.4 L394.8 323.2 L395.7 323.6 L395.8 324.6 L395.8 325.7 L396.5 326.2 L397.7 326.4 L398.3 326.9 L398.4 328.0 L398.9 328.8 L399.9 329.1 L400.7 329.5 L401.2 330.2 L401.8 331.0 L402.4 331.6 L403.2 331.9 L404.0 332.4 L404.5 333.1 L405.1 333.8 L405.9 334.1 L406.9 334.2 L407.6 334.8 L407.8 335.9 L408.3 336.6 L409.5 336.5 L410.6 336.7 L410.8 337.6 L410.8 338.7 L411.4 339.2 L412.4 339.5 L413.1 340.0 L413.4 340.9 L413.7 341.6 L414.1 342.3 L414.6 343.1 L415.0 343.9 L415.1 344.7 L415.2 345.6 L415.8 346.3 L416.5 347.0 L416.5 347.7 L417.0 348.7 L417.8 349.1 L418.9 348.8 L419.8 348.8 L420.3 349.9 L420.8 350.8 L421.8 350.8 L422.9 350.6 L423.6 351.1 L424.2 351.8 L424.9 352.2 L425.7 352.3 L426.6 352.5 L427.3 352.9 L428.0 353.3 L428.7 353.7 L429.6 353.8 L430.5 354.0 L431.0 354.7 L431.1 355.7 L431.6 356.4 L432.7 356.5 L433.6 356.9 L433.7 357.9 L433.7 359.0 L434.4 359.4 L435.5 359.8 L435.9 360.7 L436.1 361.9 L436.9 361.8 L437.6 361.3 L438.4 361.0 L439.2 360.9 L440.0 360.9 L440.8 360.8 L441.6 360.5 L442.4 360.4 L443.2 360.6 L444.0 361.1 L444.8 361.3 L445.7 360.9 L446.5 360.5 L447.3 361.1 L448.0 362.0 L448.8 362.0 L449.7 361.3 L450.3 361.1 L451.3 361.4 L452.3 361.6 L453.0 361.0 L453.6 360.4 L454.4 360.1 L455.3 360.1 L456.1 359.9 L456.9 359.5 L457.6 359.0 L458.5 358.8 L459.4 358.8 L460.2 358.5 L460.7 357.8 L461.3 357.0 L462.1 356.9 L463.2 357.2 L464.0 356.9 L464.3 355.8 L464.9 355.1 L465.8 355.2 L466.9 355.4 L467.5 354.9 L468.0 354.0 L468.6 353.5 L469.5 353.3 L470.3 353.1 L470.9 352.7 L471.5 352.1 L472.2 351.6 L472.9 351.3 L473.7 351.1 L474.4 350.7 L474.9 350.0 L475.5 349.3 L476.4 349.2 L477.5 349.3 L478.0 348.6 L478.3 347.5 L479.0 347.0 L480.2 347.3 L480.8 346.6" fill="none" stroke="#0000ff" stroke-width="1.15" stroke-linejoin="round"/><path d="M436.0 361.7 L434.4 366.3 L425.6 370.1 L419.3 372.6 L413.0 375.1 L414.3 378.9 L415.5 383.3 L410.5 387.1 L407.9 392.8 L410.5 397.9 L409.8 403.5 L406.7 406.1 L401.6 405.4" fill="none" stroke="#0000ff" stroke-width="1.15" stroke-linejoin="round"/><path d="M222.9 325.2 L223.8 325.5 L224.6 325.3 L225.2 324.3 L225.8 323.5 L226.7 323.6 L227.7 324.3 L228.6 324.5 L229.2 323.7 L229.8 322.8 L230.6 322.5 L231.5 322.8 L232.4 322.5 L233.0 321.9 L233.6 321.2 L234.2 320.6 L235.0 320.2 L235.9 319.8 L236.6 319.3 L237.1 318.5 L237.8 317.6 L238.7 317.8 L239.7 318.5 L240.6 318.6 L241.4 317.6 L242.1 316.8 L243.1 317.1 L244.0 318.0 L244.9 318.1 L245.7 317.3 L245.7 316.3 L246.4 315.6 L247.2 315.0 L247.7 314.3 L248.0 313.4 L248.3 312.5 L248.8 311.7 L249.7 311.5 L250.5 311.3 L251.1 310.6 L251.5 309.7 L252.1 309.1 L253.1 309.2 L254.2 309.4 L254.8 308.9 L255.0 307.7 L255.2 306.7 L256.1 306.4 L257.3 306.4 L258.0 305.9 L258.2 304.9 L258.5 304.1 L259.1 303.5 L259.9 303.2 L260.8 303.4 L261.7 303.4 L262.6 303.3 L263.5 303.3 L264.4 303.8 L265.2 304.3 L266.1 304.1 L267.2 303.7 L268.0 303.8 L268.6 304.9 L269.1 305.9 L270.0 305.9 L271.2 305.3 L272.1 305.3 L272.5 306.2 L273.6 306.2 L274.2 305.5 L274.6 304.6 L275.2 304.0 L276.1 303.6 L276.9 303.2 L277.6 302.7 L278.2 302.0 L278.6 301.3 L279.2 300.7 L280.0 300.3 L280.8 299.8 L280.9 298.9 L280.6 297.8 L280.9 297.0 L282.0 296.7 L282.8 297.8 L283.8 297.6 L284.8 296.7 L285.8 296.7 L286.6 297.5 L287.8 297.8 L288.2 297.1 L288.5 296.2 L289.0 295.5 L289.6 295.0 L290.3 294.5 L290.6 293.9 L291.5 294.1 L292.5 294.2 L293.1 294.9 L293.5 296.0 L295.0 296.5 L295.1 295.3 L295.4 294.3 L296.3 294.1 L297.6 294.3 L298.4 294.0 L298.5 293.0 L299.6 292.9 L300.3 293.5 L300.9 294.4 L301.6 294.9 L302.5 295.1 L303.4 295.4 L304.1 295.9 L305.0 296.2 L305.9 296.6 L306.8 296.4 L307.8 295.9 L308.7 296.1 L309.4 297.1 L310.8 297.5 L311.2 296.4 L311.6 295.2 L312.5 295.0 L313.7 295.4 L314.7 295.2 L315.1 294.2 L316.0 293.3 L316.7 293.6 L317.5 294.1 L318.3 294.3 L319.1 294.4 L319.8 294.3 L320.2 293.5 L320.8 292.8 L321.6 292.3 L322.0 291.4 L322.2 290.5" fill="none" stroke="#0000ff" stroke-width="1.15" stroke-linejoin="round"/><path d="M322.2 290.5 L321.9 291.5 L322.3 292.2 L323.4 292.7 L323.8 293.5 L323.2 294.5 L322.9 295.5 L323.6 296.1 L324.7 296.7 L324.8 297.5 L324.4 298.4 L324.3 299.3 L324.7 300.1 L325.0 301.0 L325.0 301.8 L324.8 302.7 L324.9 303.6 L325.2 304.4 L325.5 305.3 L325.2 306.2 L324.9 307.1 L325.2 307.9 L325.7 308.8 L325.5 309.6 L324.5 310.2 L323.8 310.8 L324.1 311.8 L324.7 312.8 L324.4 313.5 L323.4 314.1 L322.9 314.8 L323.2 315.7 L323.3 316.4 L323.5 317.2 L323.6 318.1 L323.9 318.9 L324.5 319.6 L325.0 320.4 L325.2 321.2 L325.2 322.2 L325.6 322.9 L326.6 323.5 L327.0 324.2 L326.6 325.2 L326.3 326.2 L327.2 326.8 L328.3 327.3 L328.4 328.2 L327.8 329.2 L327.9 330.1 L328.8 330.7 L329.4 331.4 L329.3 332.3 L329.3 333.3 L329.6 334.1 L330.1 334.8 L330.4 335.6 L330.5 336.5 L329.9 337.1 L329.7 337.9 L329.8 338.9 L329.6 339.7 L328.6 340.2 L328.1 340.5 L327.8 341.4 L327.7 342.6 L326.9 343.0 L325.6 342.8 L324.8 343.2 L324.6 344.3 L323.7 344.9 L322.7 344.5 L321.7 344.4 L320.8 344.8 L320.1 345.1 L319.6 345.8 L319.1 346.5 L318.8 347.3 L318.7 348.2 L318.7 348.9 L318.3 349.8 L317.7 350.7 L317.9 351.6 L318.8 352.5 L318.7 353.4 L317.6 354.2 L317.3 355.1 L318.0 356.0" fill="none" stroke="#0000ff" stroke-width="1.15" stroke-linejoin="round"/><path d="M328.5 341.0 L329.0 341.8 L329.8 342.0 L330.8 341.9 L331.6 342.1 L332.0 343.1 L332.5 343.9 L333.3 344.0 L334.4 343.9 L335.1 344.3 L335.6 345.1 L336.1 345.7 L337.0 345.9 L337.8 346.2 L338.5 346.6 L339.1 347.2 L339.8 347.7 L340.6 348.0 L341.4 348.3 L342.1 348.8 L342.7 349.4 L343.4 349.9 L344.4 349.8 L345.4 349.8 L346.0 350.6 L346.5 351.5 L347.2 351.4 L348.1 352.0 L348.4 352.7 L348.1 353.6 L348.3 354.8 L349.2 354.6 L350.1 354.4 L350.9 354.5 L351.8 354.8 L352.7 355.0 L353.6 354.9 L354.5 354.9 L355.3 355.1 L356.0 355.4 L356.7 355.9 L357.7 356.0 L358.4 356.4 L358.7 357.4 L359.1 358.3 L360.0 358.5 L361.1 358.5 L361.7 359.1 L361.9 360.1 L362.4 360.8 L363.3 361.0 L364.2 361.3 L364.7 362.0 L365.2 362.7 L365.8 363.3 L366.5 363.7 L367.2 364.2 L367.8 364.8 L368.3 365.5 L368.9 366.1 L369.8 366.4 L370.6 367.4 L369.7 367.7 L368.8 367.9 L368.4 368.7 L368.3 369.8 L367.7 370.4 L366.6 370.5 L365.8 370.8 L365.5 371.7 L365.4 372.7 L364.7 373.2 L363.9 373.5 L363.3 374.1 L363.0 374.8 L362.6 375.5 L362.0 376.1 L361.4 376.6 L360.8 377.3 L360.8 378.2 L361.0 379.1 L360.8 379.9 L360.2 380.8 L360.1 381.7 L360.7 382.6 L360.8 383.5 L360.0 384.3 L359.6 385.4 L360.3 386.0 L361.1 386.6 L361.2 387.5 L361.1 388.4 L361.4 389.2 L361.9 389.9 L362.4 390.7 L362.5 391.5 L363.2 392.0 L363.9 392.4 L364.7 392.7 L365.4 393.0 L366.1 393.6 L366.6 394.3 L367.3 394.7 L368.3 394.7 L369.1 394.9 L369.6 395.8 L369.9 396.7 L370.8 396.9 L371.9 396.9 L372.5 397.5 L372.8 398.5 L373.4 399.1 L374.2 399.4 L375.1 399.7 L375.6 400.3 L376.2 401.0 L376.8 401.5 L377.6 401.9 L378.3 402.4 L378.8 403.1 L379.2 403.9 L379.9 404.4 L380.8 404.7 L381.5 405.2 L381.7 406.2 L382.0 407.1 L382.9 407.5 L383.9 407.1 L384.7 407.4 L385.3 408.3 L386.0 408.8 L386.9 408.7 L387.7 408.9" fill="none" stroke="#0000ff" stroke-width="1.15" stroke-linejoin="round"/><path d="M325.8 417.9 L326.8 418.9 L327.5 417.8 L328.2 416.2 L329.1 417.0 L330.2 418.7 L330.4 417.6 L332.3 417.1 L332.6 417.9 L332.0 419.6 L332.5 420.2 L333.9 420.1 L334.5 420.6 L334.6 421.7 L335.3 422.3 L336.1 422.4 L337.0 422.4 L337.6 423.0 L338.1 423.8 L338.8 424.2 L340.1 423.9 L340.9 424.4 L340.2 426.1 L340.5 427.0 L342.6 426.5 L343.4 427.1 L342.2 429.0 L342.9 430.1 L344.6 429.1 L345.5 429.4 L345.4 431.0 L345.9 431.7 L347.1 431.5 L347.9 431.8 L348.4 432.6 L348.9 433.4 L349.8 433.6 L350.7 433.8 L351.2 434.6 L351.3 435.7 L352.0 436.1 L353.5 435.7 L354.1 436.3 L353.6 438.1 L355.2 439.2 L355.4 436.7 L356.4 436.5 L358.0 438.2 L358.8 437.1 L358.8 435.6 L359.8 435.5 L361.0 435.8 L361.6 435.1 L361.9 434.1 L362.7 433.7 L363.6 433.5 L364.4 433.1 L364.9 432.2 L365.7 431.7 L366.7 432.6 L367.7 433.0 L368.4 431.4 L369.3 430.7 L370.4 432.6 L370.1 432.3 L372.1 432.1 L373.1 432.6 L372.2 434.0 L371.7 435.1 L372.9 435.4 L374.1 435.7 L374.0 436.7 L374.0 437.8 L374.8 438.3 L375.6 438.8 L376.1 439.6 L376.2 440.6 L376.9 441.2 L378.0 441.3 L378.6 442.1 L378.3 443.7 L379.4 443.9 L381.6 444.6 L380.7 445.2 L378.5 445.3 L378.9 446.4 L380.2 447.8 L379.3 448.5 L377.7 449.4 L378.6 450.1 L379.7 450.7 L379.7 451.7 L379.7 452.7 L380.4 453.5 L381.2 453.0 L382.1 453.2 L383.0 453.8 L383.8 453.4 L384.5 452.2 L384.7 452.7 L386.5 452.3 L386.8 451.5 L385.1 450.3 L384.8 449.3 L386.8 448.9 L387.8 448.3 L386.6 447.0 L387.0 445.9 L388.2 446.4 L389.3 446.7 L389.8 445.8 L390.7 445.0 L391.3 445.8 L391.9 446.6 L392.7 446.9 L393.8 447.0 L394.4 447.9 L393.6 448.9 L394.4 449.7 L395.8 450.4 L395.0 451.4 L394.1 453.5 L395.4 453.1 L397.2 452.2 L397.3 453.6 L397.1 455.4 L398.4 455.1 L399.0 454.6 L400.0 454.9 L401.0 455.2 L401.7 454.6 L402.4 453.9 L403.2 453.7 L404.1 453.7 L404.9 453.5 L405.7 452.6 L406.7 452.6 L407.1 454.1 L407.8 454.7 L409.3 453.4 L410.3 453.4 L410.3 455.6 L411.0 456.2 L412.8 454.8 L413.6 455.3 L413.7 457.2 L414.6 457.4 L415.6 456.7 L416.5 456.8 L417.5 457.2 L418.3 456.9 L419.1 456.3 L419.9 456.1 L420.6 456.4 L421.2 456.9 L422.4 456.7 L423.4 456.5 L423.5 457.8 L423.7 459.3 L424.9 458.8 L426.4 457.8 L426.8 458.7 L426.5 460.8 L427.3 461.1 L429.0 460.0 L429.7 460.5 L429.7 462.1 L430.3 462.7 L431.5 462.5 L432.3 462.8 L432.9 463.7 L433.7 463.3 L434.1 462.4 L434.6 461.6 L435.7 461.5 L436.8 461.4 L436.9 460.2 L437.0 458.9 L438.5 459.4 L440.0 459.8 L439.7 457.9 L439.7 456.4 L441.5 457.3 L442.8 457.5 L442.6 455.7 L443.5 454.5 L444.4 455.6 L445.3 455.9 L446.2 455.3 L447.1 455.1 L448.0 455.5 L448.9 455.7 L449.8 455.3 L450.8 455.0 L451.5 455.9 L452.3 456.8 L453.4 455.7 L455.4 455.5 L454.3 457.1 L453.8 458.4 L455.5 458.6" fill="none" stroke="#0000ff" stroke-width="1.15" stroke-linejoin="round"/><path d="M280.0 254.4 L269.3 260.7 L263.0 264.7 L262.2 267.8" fill="none" stroke="#0000ff" stroke-width="1.15" stroke-linejoin="round"/></g><path d="M309.8 84.6 L310.7 88.4 L315.7 89.3 L320.8 88.0 L317.0 85.9 L312.6 84.4Z" fill="#fff" stroke="#222" stroke-width="1.2"/><path d="M10.5 154.0 L35.0 140.0 L60.0 126.4 L85.0 108.0 L96.5 104.6 L96.5 98.8 L99.0 97.6 L102.8 98.3 L102.8 101.3 L122.8 96.8 L124.6 105.0 L122.3 107.6 L123.3 113.9 L125.3 118.0 L130.3 123.0 L142.0 122.7 L142.0 114.0 L146.6 113.0 L148.0 114.0 L151.6 111.0 L160.4 114.6 L173.0 117.6 L179.0 121.0 L180.0 130.0 L186.7 131.0 L191.7 129.0 L193.0 132.7 L200.5 130.0 L208.0 124.6 L213.0 124.0 L225.5 115.6 L231.8 110.0 L238.0 101.3 L235.6 97.0 L240.0 96.6 L252.0 96.3 L252.6 99.7 L259.0 101.0 L264.6 98.5 L264.0 95.3 L259.0 87.1 L260.2 82.7 L257.7 80.8 L270.3 74.5 L279.7 73.2 L280.4 75.8 L278.5 80.8 L279.0 85.9 L284.2 84.0 L293.0 86.2 L296.0 84.6 L296.8 80.8 L301.8 76.4 L306.9 69.5 L310.7 68.2 L315.7 70.1 L319.5 73.9 L320.0 78.9 L318.2 82.7 L318.9 86.5 L323.3 88.4 L326.4 85.9 L327.0 88.4 L330.2 92.2 L333.4 89.7 L341.0 80.8 L341.6 75.8 L345.4 72.0 L346.6 75.1 L351.7 75.8 L354.8 84.0 L350.4 92.8 L358.0 101.6 L359.2 108.6 L362.4 109.8 L368.0 107.3 L373.1 110.5 L371.9 119.3 L378.8 119.3 L386.3 119.6 L387.6 117.0 L397.0 119.9 L400.2 115.8 L403.3 114.9 L405.9 111.6 L410.3 112.6 L416.0 118.9 L416.3 128.4 L428.0 133.0 L429.8 136.0 L436.2 137.0 L441.2 134.7 L445.4 136.8 L445.9 142.9 L451.9 139.7 L456.3 144.4 L451.9 148.6 L450.0 151.7 L453.2 153.6 L451.3 156.2 L448.8 156.2 L449.4 161.2 L445.6 163.2 L444.4 168.8 L446.2 170.7 L445.6 175.8 L438.7 184.0 L443.7 185.9 L439.3 193.4 L435.5 195.3 L433.6 200.4 L429.2 202.9 L427.9 207.9 L430.5 213.6 L436.0 216.3 L436.6 223.9 L434.7 227.0 L441.6 226.4 L446.0 222.0 L450.5 227.0 L455.5 226.4 L461.8 225.1 L463.1 227.7 L471.9 225.8 L479.5 227.0 L483.0 229.6 L483.3 234.0 L493.4 234.0 L502.2 250.4 L501.6 254.8 L514.2 254.2 L511.0 261.1 L502.0 268.8 L503.9 274.5 L506.4 277.0 L509.6 282.7 L514.6 280.8 L520.9 281.5 L526.0 283.3 L525.4 289.0 L529.8 290.9 L529.8 296.6 L524.7 307.3 L531.0 311.7 L534.8 316.2 L534.2 318.7 L528.5 321.8 L524.7 318.7 L519.9 322.6 L518.6 328.9 L514.2 332.1 L507.3 334.6 L502.8 340.3 L505.4 344.1 L506.0 349.7 L499.7 351.6 L500.5 354.0 L501.8 357.5 L499.5 360.8 L496.5 360.0 L495.5 357.0 L496.8 354.5 L495.9 353.5 L492.7 352.9 L490.2 355.4 L485.8 354.8 L483.3 351.0 L475.7 352.3 L473.2 360.5 L466.2 364.3 L464.7 372.6 L461.0 376.4 L462.2 380.2 L455.9 387.1 L458.4 392.8 L450.2 397.9 L448.3 406.7 L444.5 411.7 L450.9 415.5 L447.3 418.2 L445.4 425.1 L447.3 434.0 L452.3 433.3 L458.6 444.1 L457.3 448.5 L462.4 447.2 L466.2 451.6 L463.0 458.1 L469.3 461.5 L468.7 467.2 L465.6 469.5 L461.8 477.1 L464.9 479.0 L463.7 482.1 L457.4 487.2 L449.8 484.0 L447.3 488.4 L441.0 489.0 L435.9 486.5 L433.4 486.5 L430.2 489.7 L428.3 496.0 L425.2 491.6 L420.8 491.0 L417.0 494.7 L409.4 497.9 L405.6 494.1 L408.1 491.6 L407.5 487.2 L405.0 484.6 L403.1 479.0 L399.3 473.9 L390.5 469.5 L386.7 473.9 L385.4 470.1 L389.2 465.1 L380.4 456.2 L377.2 458.1 L365.9 456.2 L365.2 452.5 L360.2 451.2 L357.3 443.1 L352.3 441.2 L343.5 436.2 L339.7 433.6 L335.9 433.6 L329.6 436.8 L322.6 435.5 L325.2 429.2 L322.0 423.5 L322.0 419.7 L325.2 416.6 L327.0 410.9 L323.3 403.3 L313.8 400.2 L313.8 395.1 L317.0 391.4 L318.2 383.8 L319.2 383.0 L317.4 378.0 L321.1 374.2 L322.4 370.4 L324.9 371.0 L324.9 365.3 L328.1 361.5 L325.6 358.4 L318.0 357.1 L312.3 360.3 L308.5 364.1 L307.3 367.9 L301.0 372.3 L299.1 376.7 L301.0 379.8 L300.3 391.8 L296.7 392.7 L285.4 394.6 L281.0 397.8 L277.2 401.5 L267.1 404.7 L262.6 402.8 L253.2 401.5 L247.5 397.8 L240.6 399.0 L231.7 400.3 L231.1 397.8 L224.8 395.9 L227.3 392.7 L223.5 387.0 L226.7 381.4 L231.7 379.5 L236.8 375.7 L233.4 369.1 L232.8 362.8 L226.5 362.8 L223.3 362.2 L225.9 355.9 L227.1 346.4 L230.9 340.7 L235.3 336.3 L234.1 332.5 L230.9 331.9 L227.8 335.7 L223.3 335.0 L222.6 328.0 L216.9 324.3 L208.7 314.2 L201.1 317.3 L191.0 320.5 L188.5 317.3 L180.9 314.8 L170.2 316.1 L168.3 323.0 L165.8 324.9 L162.0 319.8 L158.9 311.0 L160.8 306.6 L159.5 293.3 L152.6 283.9 L146.9 283.2 L137.4 285.8 L137.4 282.0 L139.9 278.2 L134.3 275.7 L130.5 281.4 L120.4 284.5 L114.1 280.7 L108.4 276.9 L107.9 273.7 L107.9 263.0 L106.0 257.3 L102.8 249.1 L106.0 244.7 L104.7 238.4 L98.4 237.1 L96.5 231.5 L90.9 220.1 L85.8 218.8 L82.0 223.2 L78.2 222.0 L75.1 223.9 L63.1 228.9 L61.2 232.1 L61.2 237.1 L57.4 240.3 L53.0 237.8 L49.8 233.3 L44.8 234.6 L41.0 231.5 L40.4 227.7 L36.6 223.9 L33.4 217.6 L30.3 213.2 L21.5 213.2 L18.9 207.4 L16.4 204.9 L18.9 203.6 L18.3 192.3 L15.8 191.0 L21.5 185.3 L18.9 175.2 L13.9 172.7 L12.0 156.3Z" fill="none" stroke="#222" stroke-width="1.6" stroke-linejoin="round"/><ellipse cx="331.9" cy="81.7" rx="2.3" ry="3.2" transform="rotate(35 331.9 81.7)" fill="#222"/></g>
<g transform="translate(640,0)"><g clip-path="url(#bel)"><rect x="0" y="60" width="640" height="447" fill="#ea593a"/><path d="M60.7 236.0 L55.2 232.6 L50.5 229.4 L46.5 224.7 L46.5 216.8 L48.1 207.3 L49.7 191.5 L49.7 175.8 L50.5 169.5 L51.3 161.0 L52.8 156.2 L67.8 155.0 L78.9 153.1 L84.4 149.1 L89.9 153.9 L93.8 155.0 L102.5 153.1 L110.4 147.6 L116.7 143.6 L121.5 139.7 L127.8 137.3 L138.8 137.0 L142.7 136.5 L143.5 123.9 L143.5 85.0 L0.0 85.0 L0.0 245.0 L60.0 245.0Z" fill="#fdba6c" stroke="#fdba6c" stroke-width="0.4"/><path d="M106.0 236.6 L111.5 231.0 L119.4 226.3 L130.5 223.2 L134.4 224.3 L136.0 231.0 L137.8 235.8 L132.1 239.7 L122.6 242.1 L113.1 243.7 L109.2 240.5Z" fill="#fdba6c" stroke="#fdba6c" stroke-width="0.4"/><path d="M113.9 250.8 L117.9 248.4 L124.2 249.2 L128.1 253.9 L130.5 261.0 L134.4 268.9 L138.4 275.2 L143.1 279.9 L152.6 283.1 L165.2 284.7 L176.2 287.0 L181.8 290.0 L185.7 294.7 L188.9 300.3 L195.2 303.4 L201.5 308.1 L206.2 313.7 L209.0 316.5 L200.0 335.0 L150.0 335.0 L110.0 300.0 L102.0 280.0 L110.8 276.0 L115.5 271.3 L118.6 265.7 L115.5 257.9Z" fill="#fdba6c" stroke="#fdba6c" stroke-width="0.4"/><path d="M178.2 213.6 L184.5 212.1 L200.5 212.2 L216.3 211.8 L222.6 214.1 L226.7 220.0 L229.0 229.5 L229.8 237.4 L230.6 245.2 L229.8 251.5 L226.7 257.1 L218.8 260.2 L209.3 260.2 L199.9 257.9 L190.4 254.7 L180.9 253.9 L174.6 250.8 L171.5 242.1 L170.7 235.0 L176.2 229.5 L177.4 220.0Z" fill="#fdba6c" stroke="#fdba6c" stroke-width="0.4"/><path d="M221.8 120.2 L228.1 120.2 L235.6 128.9 L241.9 140.2 L240.6 149.0 L234.4 152.6 L228.9 153.6 L225.0 147.9 L221.8 137.7 L220.6 126.4Z" fill="#fdba6c" stroke="#fdba6c" stroke-width="0.4"/><path d="M287.3 145.5 L293.6 146.5 L293.6 149.5 L288.0 149.0Z" fill="#fdba6c" stroke="#fdba6c" stroke-width="0.4"/><path d="M303.0 168.4 L306.2 162.1 L312.5 160.2 L317.2 162.9 L319.6 170.0 L318.8 176.3 L314.1 180.2 L306.2 181.8 L303.0 177.1Z" fill="#fdba6c" stroke="#fdba6c" stroke-width="0.4"/><path d="M282.5 219.7 L282.9 205.0 L283.3 199.9 L287.3 195.2 L295.1 192.1 L303.0 191.3 L306.2 196.0 L310.9 202.3 L318.8 206.2 L325.9 207.8 L331.4 203.1 L335.4 195.2 L337.4 189.7 L342.1 181.0 L348.4 174.7 L357.9 171.8 L364.2 173.1 L373.6 180.2 L379.9 185.7 L383.1 189.7 L390.9 200.0 L394.1 201.6 L398.0 206.3 L394.1 212.6 L389.3 220.5 L383.0 228.4 L373.6 230.8 L364.1 229.2 L354.6 226.8 L343.6 224.4 L332.6 226.8 L323.1 230.8 L312.1 236.3 L297.9 240.2 L285.2 239.4 L282.1 236.3Z" fill="#fdba6c" stroke="#fdba6c" stroke-width="0.4"/><path d="M436.7 133.0 L436.7 147.9 L441.5 154.2 L446.2 158.9 L460.0 160.0 L460.0 130.0Z" fill="#fdba6c" stroke="#fdba6c" stroke-width="0.4"/><path d="M417.0 254.4 L418.9 252.8 L423.7 253.6 L424.9 259.9 L422.1 267.0 L418.9 263.9 L417.7 259.9Z" fill="#fdba6c" stroke="#fdba6c" stroke-width="0.4"/><path d="M371.0 273.6 L378.0 272.8 L386.0 273.4 L385.0 275.8 L372.0 275.8Z" fill="#fdba6c" stroke="#fdba6c" stroke-width="0.4"/><path d="M273.3 313.7 L277.2 308.1 L281.2 312.1 L282.0 320.8 L277.2 323.1 L273.3 320.0Z" fill="#fdba6c" stroke="#fdba6c" stroke-width="0.4"/><path d="M220.0 345.0 L227.5 348.4 L237.8 351.5 L234.6 354.7 L232.3 360.2 L230.0 364.0 L218.0 365.0Z" fill="#fdba6c" stroke="#fdba6c" stroke-width="0.4"/><path d="M169.6 131.8 L164.8 140.5 L164.0 149.9 L166.4 157.8 L171.1 164.1 L176.7 167.6 L183.0 164.1 L187.7 156.2 L189.7 148.4 L188.5 138.9 L186.1 132.6 L181.4 130.2 L179.0 129.0 L172.0 129.5Z" fill="#a50026" stroke="#a50026" stroke-width="0.4"/><path d="M244.7 214.1 L245.5 204.7 L249.4 197.6 L256.5 191.3 L260.4 194.4 L263.6 199.9 L266.4 206.2 L266.8 212.6 L264.4 219.7 L261.4 223.0 L255.0 223.5 L248.8 221.0Z" fill="#a50026" stroke="#a50026" stroke-width="0.4"/><path d="M193.6 282.3 L198.3 274.4 L202.2 274.4 L208.5 279.1 L212.2 283.1 L210.1 287.8 L199.9 289.1 L196.7 286.2Z" fill="#a50026" stroke="#a50026" stroke-width="0.4"/><path d="M266.5 98.6 L272.8 98.6 L272.8 101.0 L266.5 101.0Z" fill="#a50026" stroke="#a50026" stroke-width="0.4"/><path d="M442.0 218.0 L441.8 241.0 L444.2 248.9 L448.9 256.0 L461.5 256.8 L465.5 250.5 L467.8 242.6 L467.0 220.0Z" fill="#a50026" stroke="#a50026" stroke-width="0.4"/><path d="M334.7 313.7 L344.2 310.2 L352.8 312.9 L344.2 316.8Z" fill="#a50026" stroke="#a50026" stroke-width="0.4"/><path d="M326.0 427.0 L331.5 427.8 L337.9 431.0 L340.2 433.3 L342.0 438.0 L320.0 438.0 L320.0 428.0Z" fill="#a50026" stroke="#a50026" stroke-width="0.4"/><path d="M252.0 398.5 L257.8 390.3 L270.3 382.7 L280.4 376.5 L286.6 372.2 L294.1 377.7 L299.5 382.7 L298.0 392.0 L305.0 410.0 L250.0 412.0Z" fill="#a50026" stroke="#a50026" stroke-width="0.4"/><path d="M355.2 312.9 L359.9 305.8 L366.3 301.0 L372.6 300.2 L378.9 302.0 L386.8 307.3 L392.0 312.3 L386.8 318.4 L385.2 324.7 L388.3 331.0 L393.1 335.0 L402.5 336.5 L408.8 340.5 L412.8 344.4 L415.9 338.9 L423.0 337.0 L430.9 338.9 L437.2 344.4 L441.9 350.7 L446.7 357.8 L451.4 361.8 L459.3 363.3 L467.2 361.0 L473.5 357.8 L480.0 354.0 L486.0 348.4 L492.4 337.3 L497.2 331.0 L502.0 326.2 L508.3 319.9 L513.0 313.6 L509.8 308.9 L505.1 302.6 L497.2 295.5 L490.9 289.7 L483.0 290.0 L476.7 288.4 L472.8 283.7 L473.6 274.2 L476.7 265.5 L494.6 264.7 L505.7 264.7 L520.0 262.0 L560.0 262.0 L560.0 520.0 L360.0 520.0 L360.0 443.0 L356.8 438.9 L352.0 434.1 L344.2 427.8 L341.3 422.3 L338.6 415.2 L335.5 407.3 L337.1 401.0 L338.6 394.7 L340.2 386.0 L347.3 382.9 L353.6 383.3 L361.5 386.8 L366.2 383.7 L374.1 377.4 L380.4 369.5 L380.4 361.0 L378.9 353.1 L375.7 346.8 L371.8 342.8 L366.2 338.9 L360.7 331.0 L360.7 319.2Z" fill="#a50026" stroke="#a50026" stroke-width="0.4"/><path d="M360.0 456.0 L366.2 452.2 L374.1 450.3 L385.2 451.4 L390.7 456.2 L393.1 464.9 L396.2 472.0 L402.5 478.3 L410.4 482.2 L421.5 482.2 L429.3 477.5 L434.9 471.2 L437.2 464.9 L440.4 458.5 L445.1 453.0 L451.4 450.7 L463.3 450.7 L480.0 450.0 L480.0 507.0 L360.0 507.0Z" fill="#ea593a" stroke="#ea593a" stroke-width="0.4"/><path d="M124.6 118.9 L122.8 126.4 L121.6 135.2 L127.0 140.0 L126.2 144.7 L116.7 154.2 L124.6 159.7 L131.7 165.2 L130.1 169.2 L132.5 173.9 L129.3 182.6 L131.7 186.5 L127.0 187.3 L132.5 190.5 L127.8 196.0 L134.9 198.4 L133.3 204.7 L138.8 209.4 L140.7 216.6 L133.8 226.4 L138.8 227.7 L143.9 227.0 L145.1 232.7 L151.4 234.0 L156.5 235.5 L158.9 230.8 L162.0 225.2 L166.7 223.7 L173.1 224.4 L175.4 229.2 L184.1 230.8 L190.4 230.0 L193.6 236.3 L195.1 241.8 L204.6 243.4 L210.9 240.2 L218.9 239.4 L227.6 235.5 L230.8 238.6 L236.3 239.4 L239.4 242.6 L247.3 240.2 L250.5 234.7 L253.6 237.9 L259.9 233.9 L269.4 230.0 L274.1 229.2 L277.3 233.9 L282.8 230.8 L287.5 228.4 L288.3 231.5 L294.6 230.8 L294.6 222.1 L300.9 220.5 L308.8 218.9 L315.1 220.5 L319.9 226.8 L327.8 226.8 L330.9 230.8 L338.8 226.8 L344.3 229.2 L346.7 234.7 L351.4 239.4 L356.2 239.4 L364.0 240.2 L364.8 237.1 L374.2 236.5 L380.5 235.7 L388.4 231.8 L394.7 231.0 L397.1 235.0 L404.2 235.7 L406.5 231.8 L412.1 231.8 L413.6 228.6 L419.9 225.5 L427.8 222.3 L431.8 217.6" fill="none" stroke="#b9b9b9" stroke-width="1.1" stroke-linejoin="round"/><path d="M50.5 226.4 L55.5 227.0 L61.8 223.9 L65.6 220.1 L63.1 218.8 L70.7 215.7 L73.2 217.6 L73.2 222.0 L75.7 222.6" fill="none" stroke="#b9b9b9" stroke-width="1.1" stroke-linejoin="round"/><path d="M50.5 226.4 L49.2 231.5 L51.7 235.2" fill="none" stroke="#b9b9b9" stroke-width="1.1" stroke-linejoin="round"/><path d="M95.9 227.0 L100.9 225.8 L107.3 228.9 L112.3 228.9 L114.8 233.3 L118.6 237.1" fill="none" stroke="#b9b9b9" stroke-width="1.1" stroke-linejoin="round"/><path d="M246.9 121.4 L248.1 130.2 L250.6 135.2 L250.6 145.2" fill="none" stroke="#b9b9b9" stroke-width="1.1" stroke-linejoin="round"/><path d="M232.3 169.2 L237.9 168.4 L243.4 167.6 L248.9 170.0 L254.4 173.1 L257.6 170.8 L259.9 176.3 L266.2 177.1 L271.8 175.5 L277.3 177.9 L283.6 177.9 L288.3 173.9 L297.8 172.3 L300.9 177.1 L307.3 170.8 L312.8 168.4 L315.9 173.9 L323.0 173.1 L330.9 170.0 L338.8 168.4 L341.2 163.7 L346.7 159.7 L356.2 155.0 L364.0 150.3 L370.3 146.3 L375.9 144.7 L376.7 140.0 L372.0 133.0 L371.0 125.0 L372.0 119.5" fill="none" stroke="#b9b9b9" stroke-width="1.1" stroke-linejoin="round"/><path d="M338.8 168.4 L342.0 171.5 L349.8 173.1 L352.2 167.6 L357.7 166.8 L362.5 171.5 L357.7 172.3 L357.7 177.1 L351.4 181.8 L348.3 187.3 L349.8 192.8 L357.7 194.4 L365.6 196.0 L366.4 203.1 L362.5 207.8 L360.9 215.7 L361.7 219.7 L355.4 223.7 L357.7 231.5 L356.2 239.4" fill="none" stroke="#b9b9b9" stroke-width="1.1" stroke-linejoin="round"/><path d="M237.9 169.2 L237.9 176.3 L228.4 180.2 L226.0 187.3 L218.9 192.1 L218.1 196.8 L217.0 205.0 L214.2 211.8 L216.6 214.2 L215.8 220.5 L209.5 223.7 L204.7 226.0 L198.3 228.4 L197.5 224.4 L204.6 225.2 L210.9 222.9 L216.4 218.1" fill="none" stroke="#b9b9b9" stroke-width="1.1" stroke-linejoin="round"/><path d="M239.4 214.1 L245.0 209.4 L245.7 203.1 L252.1 199.1 L261.5 196.0 L263.9 199.9 L264.7 206.2 L269.4 209.4 L270.2 215.7 L267.8 218.1 L271.8 219.7 L269.4 220.5 L258.4 226.0 L250.5 224.4 L247.3 219.7 L241.8 217.4 L239.4 214.1" fill="none" stroke="#b9b9b9" stroke-width="1.1" stroke-linejoin="round"/><path d="M218.9 239.4 L219.7 247.3 L218.9 253.6 L223.7 256.0 L230.0 249.7 L233.1 253.6 L233.9 256.8 L239.4 259.9 L241.8 264.7 L247.3 269.4 L252.1 270.2 L250.5 274.1 L259.1 271.0 L269.4 271.8 L270.2 277.3 L278.9 278.1 L284.4 275.7 L285.2 271.0 L294.6 269.4 L296.2 263.1 L300.9 260.7 L305.7 262.3 L307.3 265.5 L313.6 262.3 L321.5 259.1 L330.9 256.0 L335.6 252.9 L339.6 253.6 L342.0 248.1 L343.5 237.9 L341.2 233.9 L344.3 230.0" fill="none" stroke="#b9b9b9" stroke-width="1.1" stroke-linejoin="round"/><path d="M339.6 253.6 L340.4 259.9 L344.3 266.2 L347.5 271.0 L348.3 277.3 L356.2 280.0 L360.4 284.7 L366.3 289.4 L372.6 292.6 L374.2 300.5 L380.5 306.0 L383.7 310.7 L393.1 308.4 L397.9 302.1 L402.6 300.5 L405.7 302.1 L412.8 300.5 L416.8 306.0 L423.1 304.4 L429.4 309.9 L439.1 313.8 L441.0 318.8 L439.7 322.6 L444.2 325.8 L443.5 332.1 L441.0 333.3 L445.4 334.0 L453.0 333.3 L461.8 332.1 L462.5 328.9 L458.7 328.3 L460.6 322.6 L459.3 316.9 L466.9 316.3 L473.2 318.8 L480.8 322.0 L481.4 335.2 L481.4 344.1 L484.5 347.8" fill="none" stroke="#b9b9b9" stroke-width="1.1" stroke-linejoin="round"/><path d="M396.3 307.6 L397.1 313.1 L391.5 320.2 L390.5 322.7 L395.5 330.2 L387.7 336.3 L379.8 337.9 L371.9 344.2 L375.9 350.5 L379.8 357.6 L381.4 361.5 L376.7 363.9 L379.0 367.9 L370.3 368.6 L359.3 370.2 L351.4 370.2 L349.8 375.7 L345.1 381.3 L339.7 385.7 L343.5 391.4 L351.0 395.1 L356.1 400.2 L357.3 407.1 L352.3 412.8 L351.0 416.6 L346.0 419.1 L340.9 423.5" fill="none" stroke="#b9b9b9" stroke-width="1.1" stroke-linejoin="round"/><path d="M283.6 278.9 L283.9 287.6 L286.5 295.1 L289.0 302.7 L285.2 310.2 L286.5 320.2 L275.2 322.7 L267.7 325.2 L260.1 330.2 L247.6 335.2 L245.1 339.0 L253.9 340.2 L259.9 341.8 L259.1 350.5 L255.2 355.2 L259.1 363.9 L258.4 377.3 L261.5 386.8 L263.9 394.7 L266.2 402.6" fill="none" stroke="#b9b9b9" stroke-width="1.1" stroke-linejoin="round"/><path d="M435.7 228.6 L442.0 229.4 L448.3 230.2 L453.1 235.7 L460.9 237.0 L464.9 232.6 L462.5 229.4" fill="none" stroke="#b9b9b9" stroke-width="1.1" stroke-linejoin="round"/><path d="M360.0 194.7 L366.3 196.3" fill="none" stroke="#b9b9b9" stroke-width="1.1" stroke-linejoin="round"/><path d="M35.0 140.2 L42.6 145.2 L48.0 150.0 L51.7 155.0 L50.5 157.6 L52.4 167.7 L48.0 175.0 L43.5 182.2 L34.0 184.5 L25.2 186.0 L18.3 191.6" fill="none" stroke="#0000ff" stroke-width="1.15" stroke-linejoin="round"/><path d="M240.6 101.4 L244.4 108.9 L249.4 116.4 L248.1 121.4 L260.7 127.2 L258.1 131.4 L251.9 135.2 L251.3 140.0 L250.5 146.3 L248.1 151.0 L248.9 154.2 L255.2 158.1 L263.1 160.5" fill="none" stroke="#0000ff" stroke-width="1.15" stroke-linejoin="round"/><path d="M248.1 151.0 L241.0 151.0 L235.5 150.7 L230.0 155.8 L232.3 162.1 L232.3 169.2 L229.2 166.0 L226.0 164.4 L223.7 166.8 L220.5 169.2 L216.6 166.0 L212.6 169.2 L211.0 173.1 L206.3 175.5 L202.4 173.1 L200.0 174.0 L190.5 174.0 L184.2 177.3 L177.9 170.3 L172.9 164.0 L162.9 167.8 L152.9 170.3 L150.4 175.3 L140.4 180.3 L132.8 185.3 L130.3 187.0 L125.3 197.0 L117.9 203.0 L111.5 207.9 L103.7 214.2 L94.2 218.9 L87.9 219.7" fill="none" stroke="#0000ff" stroke-width="1.15" stroke-linejoin="round"/><path d="M172.9 164.0 L168.0 172.0 L164.0 180.0 L159.1 187.0 L164.2 197.0 L160.4 200.0 L155.7 204.7 L154.1 211.0 L143.1 217.4 L133.6 225.2 L125.7 231.5 L118.6 237.1 L117.1 241.8 L117.9 250.5 L122.6 258.4 L128.9 264.7 L130.5 269.4 L128.1 275.7 L127.3 281.0" fill="none" stroke="#0000ff" stroke-width="1.15" stroke-linejoin="round"/><path d="M216.6 166.8 L215.8 176.3 L211.8 185.0 L213.4 192.1 L218.1 199.9 L215.8 206.2 L206.2 214.2 L193.6 220.5 L188.8 226.8 L187.3 232.3 L183.3 237.9 L182.5 244.2 L177.8 248.9 L175.4 255.2 L182.5 261.5 L190.4 265.5 L195.1 268.6 L192.8 274.1 L188.0 281.0" fill="none" stroke="#0000ff" stroke-width="1.15" stroke-linejoin="round"/><path d="M175.4 255.2 L165.2 258.4 L154.1 260.7 L146.2 263.9 L140.7 267.8" fill="none" stroke="#0000ff" stroke-width="1.15" stroke-linejoin="round"/><path d="M263.1 160.5 L269.4 161.3 L275.7 156.6 L282.0 151.0 L285.2 147.1 L291.5 140.8 L300.0 137.0 L310.0 132.0 L320.0 128.5 L330.0 125.5 L340.0 124.5 L350.0 125.5 L361.0 129.5" fill="none" stroke="#0000ff" stroke-width="1.15" stroke-linejoin="round"/><path d="M285.2 147.1 L291.5 148.7 L300.9 151.0 L305.7 155.0 L308.8 160.5 L312.8 163.7 L321.5 162.1 L330.9 158.1 L338.8 155.0 L340.4 147.9 L345.1 144.7 L353.0 147.1 L360.9 144.7 L370.3 141.6 L381.4 142.4 L389.3 145.5 L391.6 148.7" fill="none" stroke="#0000ff" stroke-width="1.15" stroke-linejoin="round"/><path d="M263.1 160.5 L263.9 166.8 L266.2 173.1 L271.0 180.2 L271.8 182.6 L267.8 185.0 L263.1 190.5 L259.9 198.4 L253.6 207.8 L247.3 218.1 L242.6 226.8 L237.9 233.9 L233.9 241.8 L226.0 248.1 L218.9 250.5 L213.4 256.0 L212.3 262.3 L215.8 269.4 L222.1 274.7" fill="none" stroke="#0000ff" stroke-width="1.15" stroke-linejoin="round"/><path d="M263.5 164.0 L269.4 170.0 L277.3 175.5 L286.8 177.9 L296.2 180.2 L300.9 184.2 L310.4 181.8 L323.0 178.6 L335.6 175.5 L342.0 177.9 L349.8 178.6 L353.8 184.2 L357.7 185.7 L367.2 182.6 L378.2 185.7 L389.3 190.5 L399.4 194.7 L410.5 200.3 L412.1 204.2 L408.9 210.5 L410.5 217.6 L412.8 219.2" fill="none" stroke="#0000ff" stroke-width="1.15" stroke-linejoin="round"/><path d="M300.9 184.2 L302.5 190.5 L302.5 200.0 L300.9 201.5 L294.6 209.5 L293.1 218.9 L293.8 225.2 L295.4 229.2 L291.5 234.7 L285.2 241.0 L282.8 248.9 L277.3 256.8 L269.4 260.7 L263.1 264.7 L262.3 268.6" fill="none" stroke="#0000ff" stroke-width="1.15" stroke-linejoin="round"/><path d="M433.3 217.6 L429.4 223.9 L423.1 227.9 L415.2 228.6 L412.1 225.5 L407.3 223.1 L401.0 227.1 L394.7 232.6 L383.7 236.5 L374.2 240.5 L366.3 246.8 L359.3 249.7" fill="none" stroke="#0000ff" stroke-width="1.15" stroke-linejoin="round"/><path d="M433.3 217.6 L433.2 218.5 L433.3 219.3 L433.8 220.0 L434.4 220.7 L434.6 221.4 L434.5 222.3 L434.2 223.2 L434.3 224.0 L434.8 224.7 L435.2 225.5 L435.3 226.4 L435.1 227.3 L435.1 228.2 L435.2 229.0 L435.3 229.9 L435.5 230.7 L435.6 231.6 L435.5 232.5 L435.4 233.4 L435.5 234.1 L435.5 235.0 L435.5 235.9 L435.1 236.7 L434.4 237.3 L433.8 238.0 L433.6 238.8 L433.7 239.8 L433.7 240.7 L433.1 241.3 L432.4 241.9 L431.8 242.5 L431.4 243.2 L431.2 244.0 L430.8 244.8 L430.3 245.4 L429.8 246.1 L429.3 246.7 L428.6 247.1 L428.0 247.7 L427.4 248.3 L426.7 248.8 L425.9 248.9 L425.0 249.1 L424.3 249.5 L423.8 250.3 L423.5 250.9 L423.1 251.6 L422.3 252.2 L421.7 252.8 L421.4 253.6 L421.3 254.5 L421.1 255.3 L420.5 256.1 L419.6 256.2 L418.7 256.4 L417.9 256.6 L417.1 256.9 L416.2 257.3 L415.3 257.4 L414.4 257.4 L413.4 257.5 L412.9 258.2 L412.4 259.0 L411.9 259.6 L411.1 259.8 L410.2 259.9 L409.4 260.2 L408.9 260.9 L408.4 261.7 L407.9 262.3 L407.1 262.6 L406.3 262.9 L405.6 263.2 L404.9 263.6 L404.1 264.0 L403.4 264.3 L402.6 264.5 L401.8 264.7 L400.9 264.8 L400.2 265.1 L399.5 265.6 L398.8 266.1 L398.0 266.3 L397.0 266.2 L396.1 266.2 L395.4 266.7 L394.9 267.6 L394.3 268.3 L393.5 268.6 L392.6 268.6 L391.8 268.9 L391.1 269.4 L390.5 270.0 L389.8 270.5 L389.0 270.9 L388.2 271.2 L387.5 271.6 L386.8 272.0 L386.2 272.7 L385.6 273.4 L384.9 273.9 L384.0 274.2 L383.2 274.6 L382.7 275.3 L382.1 276.3 L381.1 276.4 L380.3 275.8 L379.5 275.3 L378.5 275.2 L377.6 275.5 L376.7 275.6 L375.9 275.3 L375.1 275.7 L374.3 276.2 L373.7 276.9 L373.1 277.5 L372.4 278.1 L371.7 278.7 L371.0 279.0 L370.1 279.2 L369.4 279.5 L368.7 280.1 L368.0 280.4 L367.1 280.3 L366.2 280.1 L365.4 280.1 L364.6 280.6 L364.0 281.4 L363.3 281.8 L362.4 281.8 L361.5 281.8 L360.7 282.0 L360.0 282.5 L359.3 282.9 L358.5 283.2 L357.7 283.4 L356.9 283.5 L356.1 283.6 L355.3 283.8 L354.6 284.2 L353.8 284.5 L353.0 284.6 L352.2 284.5 L351.3 284.3 L350.6 284.6 L349.9 285.2 L349.2 285.8 L348.3 285.8 L347.5 285.6 L346.4 285.6 L346.0 286.2 L345.7 287.0 L345.3 287.8 L344.7 288.3 L344.1 288.9 L343.5 289.4 L343.0 290.0 L342.5 290.7 L341.9 291.4 L341.2 291.0 L340.6 290.4 L340.1 289.8 L339.4 289.2 L338.6 288.9 L337.7 288.8 L337.3 288.6 L336.5 288.5 L335.5 288.2 L334.7 288.2 L334.0 288.7 L333.3 289.3 L332.6 289.6 L331.7 289.6 L330.8 289.6 L330.1 290.0 L329.5 290.6 L328.9 291.1 L328.3 291.6 L327.6 292.0 L326.8 292.4 L326.3 292.7 L325.5 292.3 L324.5 292.1 L323.6 291.8 L323.0 291.0 L322.2 290.5" fill="none" stroke="#0000ff" stroke-width="1.15" stroke-linejoin="round"/><path d="M420.5 256.0 L421.1 257.0 L422.3 257.1 L423.7 257.5 L423.4 258.6 L423.3 259.7 L424.2 260.3 L425.2 261.2 L424.6 261.9 L423.6 262.4 L423.3 263.2 L423.2 264.2 L422.9 265.0 L422.3 265.7 L421.8 266.5 L421.5 267.4 L421.5 268.2 L421.3 269.0 L420.7 269.7 L420.3 270.4 L420.5 271.3 L420.8 272.3 L420.5 273.0 L419.7 273.4 L418.8 273.7 L418.5 274.9 L418.1 274.8 L418.1 275.9 L418.3 276.8 L419.0 277.3 L419.8 277.7 L420.3 278.4 L420.6 279.2 L421.0 280.0 L421.5 280.8 L422.0 281.5 L422.4 282.3 L422.5 283.2 L422.9 283.8 L423.0 284.8 L422.9 285.7 L422.0 286.2 L421.1 286.8 L421.2 287.7 L421.6 288.8 L421.1 289.7 L419.9 289.9 L419.2 290.5 L419.1 291.5 L418.8 292.4 L417.9 292.9 L417.2 293.4 L416.7 294.2 L416.4 294.9 L416.0 295.6 L415.4 296.2 L414.8 296.8 L414.4 297.5 L414.3 298.4 L414.0 298.8 L413.7 299.7 L413.4 300.6 L414.0 301.3 L414.9 301.9 L415.1 302.7 L414.6 303.7 L414.4 304.6 L415.1 305.2 L415.3 306.1 L414.9 306.9 L414.2 307.5 L413.9 308.3 L413.9 309.1 L413.7 310.0 L413.0 310.4 L412.2 310.7 L411.5 311.1 L410.9 311.7 L410.4 312.4 L409.7 312.8 L408.8 312.8 L407.9 313.0 L407.4 314.0 L406.8 314.7 L405.8 314.5 L404.7 314.2 L404.0 314.8 L403.7 315.8 L403.0 316.4 L401.9 316.6 L401.2 317.2 L400.8 318.2 L400.2 318.9 L399.4 319.4 L398.6 319.8 L398.0 320.5 L397.5 321.2 L396.8 321.8 L395.9 322.0 L395.1 322.4 L394.8 323.2 L395.7 323.6 L395.8 324.6 L395.8 325.7 L396.5 326.2 L397.7 326.4 L398.3 326.9 L398.4 328.0 L398.9 328.8 L399.9 329.1 L400.7 329.5 L401.2 330.2 L401.8 331.0 L402.4 331.6 L403.2 331.9 L404.0 332.4 L404.5 333.1 L405.1 333.8 L405.9 334.1 L406.9 334.2 L407.6 334.8 L407.8 335.9 L408.3 336.6 L409.5 336.5 L410.6 336.7 L410.8 337.6 L410.8 338.7 L411.4 339.2 L412.4 339.5 L413.1 340.0 L413.4 340.9 L413.7 341.6 L414.1 342.3 L414.6 343.1 L415.0 343.9 L415.1 344.7 L415.2 345.6 L415.8 346.3 L416.5 347.0 L416.5 347.7 L417.0 348.7 L417.8 349.1 L418.9 348.8 L419.8 348.8 L420.3 349.9 L420.8 350.8 L421.8 350.8 L422.9 350.6 L423.6 351.1 L424.2 351.8 L424.9 352.2 L425.7 352.3 L426.6 352.5 L427.3 352.9 L428.0 353.3 L428.7 353.7 L429.6 353.8 L430.5 354.0 L431.0 354.7 L431.1 355.7 L431.6 356.4 L432.7 356.5 L433.6 356.9 L433.7 357.9 L433.7 359.0 L434.4 359.4 L435.5 359.8 L435.9 360.7 L436.1 361.9 L436.9 361.8 L437.6 361.3 L438.4 361.0 L439.2 360.9 L440.0 360.9 L440.8 360.8 L441.6 360.5 L442.4 360.4 L443.2 360.6 L444.0 361.1 L444.8 361.3 L445.7 360.9 L446.5 360.5 L447.3 361.1 L448.0 362.0 L448.8 362.0 L449.7 361.3 L450.3 361.1 L451.3 361.4 L452.3 361.6 L453.0 361.0 L453.6 360.4 L454.4 360.1 L455.3 360.1 L456.1 359.9 L456.9 359.5 L457.6 359.0 L458.5 358.8 L459.4 358.8 L460.2 358.5 L460.7 357.8 L461.3 357.0 L462.1 356.9 L463.2 357.2 L464.0 356.9 L464.3 355.8 L464.9 355.1 L465.8 355.2 L466.9 355.4 L467.5 354.9 L468.0 354.0 L468.6 353.5 L469.5 353.3 L470.3 353.1 L470.9 352.7 L471.5 352.1 L472.2 351.6 L472.9 351.3 L473.7 351.1 L474.4 350.7 L474.9 350.0 L475.5 349.3 L476.4 349.2 L477.5 349.3 L478.0 348.6 L478.3 347.5 L479.0 347.0 L480.2 347.3 L480.8 346.6" fill="none" stroke="#0000ff" stroke-width="1.15" stroke-linejoin="round"/><path d="M436.0 361.7 L434.4 366.3 L425.6 370.1 L419.3 372.6 L413.0 375.1 L414.3 378.9 L415.5 383.3 L410.5 387.1 L407.9 392.8 L410.5 397.9 L409.8 403.5 L406.7 406.1 L401.6 405.4" fill="none" stroke="#0000ff" stroke-width="1.15" stroke-linejoin="round"/><path d="M222.9 325.2 L223.8 325.5 L224.6 325.3 L225.2 324.3 L225.8 323.5 L226.7 323.6 L227.7 324.3 L228.6 324.5 L229.2 323.7 L229.8 322.8 L230.6 322.5 L231.5 322.8 L232.4 322.5 L233.0 321.9 L233.6 321.2 L234.2 320.6 L235.0 320.2 L235.9 319.8 L236.6 319.3 L237.1 318.5 L237.8 317.6 L238.7 317.8 L239.7 318.5 L240.6 318.6 L241.4 317.6 L242.1 316.8 L243.1 317.1 L244.0 318.0 L244.9 318.1 L245.7 317.3 L245.7 316.3 L246.4 315.6 L247.2 315.0 L247.7 314.3 L248.0 313.4 L248.3 312.5 L248.8 311.7 L249.7 311.5 L250.5 311.3 L251.1 310.6 L251.5 309.7 L252.1 309.1 L253.1 309.2 L254.2 309.4 L254.8 308.9 L255.0 307.7 L255.2 306.7 L256.1 306.4 L257.3 306.4 L258.0 305.9 L258.2 304.9 L258.5 304.1 L259.1 303.5 L259.9 303.2 L260.8 303.4 L261.7 303.4 L262.6 303.3 L263.5 303.3 L264.4 303.8 L265.2 304.3 L266.1 304.1 L267.2 303.7 L268.0 303.8 L268.6 304.9 L269.1 305.9 L270.0 305.9 L271.2 305.3 L272.1 305.3 L272.5 306.2 L273.6 306.2 L274.2 305.5 L274.6 304.6 L275.2 304.0 L276.1 303.6 L276.9 303.2 L277.6 302.7 L278.2 302.0 L278.6 301.3 L279.2 300.7 L280.0 300.3 L280.8 299.8 L280.9 298.9 L280.6 297.8 L280.9 297.0 L282.0 296.7 L282.8 297.8 L283.8 297.6 L284.8 296.7 L285.8 296.7 L286.6 297.5 L287.8 297.8 L288.2 297.1 L288.5 296.2 L289.0 295.5 L289.6 295.0 L290.3 294.5 L290.6 293.9 L291.5 294.1 L292.5 294.2 L293.1 294.9 L293.5 296.0 L295.0 296.5 L295.1 295.3 L295.4 294.3 L296.3 294.1 L297.6 294.3 L298.4 294.0 L298.5 293.0 L299.6 292.9 L300.3 293.5 L300.9 294.4 L301.6 294.9 L302.5 295.1 L303.4 295.4 L304.1 295.9 L305.0 296.2 L305.9 296.6 L306.8 296.4 L307.8 295.9 L308.7 296.1 L309.4 297.1 L310.8 297.5 L311.2 296.4 L311.6 295.2 L312.5 295.0 L313.7 295.4 L314.7 295.2 L315.1 294.2 L316.0 293.3 L316.7 293.6 L317.5 294.1 L318.3 294.3 L319.1 294.4 L319.8 294.3 L320.2 293.5 L320.8 292.8 L321.6 292.3 L322.0 291.4 L322.2 290.5" fill="none" stroke="#0000ff" stroke-width="1.15" stroke-linejoin="round"/><path d="M322.2 290.5 L321.9 291.5 L322.3 292.2 L323.4 292.7 L323.8 293.5 L323.2 294.5 L322.9 295.5 L323.6 296.1 L324.7 296.7 L324.8 297.5 L324.4 298.4 L324.3 299.3 L324.7 300.1 L325.0 301.0 L325.0 301.8 L324.8 302.7 L324.9 303.6 L325.2 304.4 L325.5 305.3 L325.2 306.2 L324.9 307.1 L325.2 307.9 L325.7 308.8 L325.5 309.6 L324.5 310.2 L323.8 310.8 L324.1 311.8 L324.7 312.8 L324.4 313.5 L323.4 314.1 L322.9 314.8 L323.2 315.7 L323.3 316.4 L323.5 317.2 L323.6 318.1 L323.9 318.9 L324.5 319.6 L325.0 320.4 L325.2 321.2 L325.2 322.2 L325.6 322.9 L326.6 323.5 L327.0 324.2 L326.6 325.2 L326.3 326.2 L327.2 326.8 L328.3 327.3 L328.4 328.2 L327.8 329.2 L327.9 330.1 L328.8 330.7 L329.4 331.4 L329.3 332.3 L329.3 333.3 L329.6 334.1 L330.1 334.8 L330.4 335.6 L330.5 336.5 L329.9 337.1 L329.7 337.9 L329.8 338.9 L329.6 339.7 L328.6 340.2 L328.1 340.5 L327.8 341.4 L327.7 342.6 L326.9 343.0 L325.6 342.8 L324.8 343.2 L324.6 344.3 L323.7 344.9 L322.7 344.5 L321.7 344.4 L320.8 344.8 L320.1 345.1 L319.6 345.8 L319.1 346.5 L318.8 347.3 L318.7 348.2 L318.7 348.9 L318.3 349.8 L317.7 350.7 L317.9 351.6 L318.8 352.5 L318.7 353.4 L317.6 354.2 L317.3 355.1 L318.0 356.0" fill="none" stroke="#0000ff" stroke-width="1.15" stroke-linejoin="round"/><path d="M328.5 341.0 L329.0 341.8 L329.8 342.0 L330.8 341.9 L331.6 342.1 L332.0 343.1 L332.5 343.9 L333.3 344.0 L334.4 343.9 L335.1 344.3 L335.6 345.1 L336.1 345.7 L337.0 345.9 L337.8 346.2 L338.5 346.6 L339.1 347.2 L339.8 347.7 L340.6 348.0 L341.4 348.3 L342.1 348.8 L342.7 349.4 L343.4 349.9 L344.4 349.8 L345.4 349.8 L346.0 350.6 L346.5 351.5 L347.2 351.4 L348.1 352.0 L348.4 352.7 L348.1 353.6 L348.3 354.8 L349.2 354.6 L350.1 354.4 L350.9 354.5 L351.8 354.8 L352.7 355.0 L353.6 354.9 L354.5 354.9 L355.3 355.1 L356.0 355.4 L356.7 355.9 L357.7 356.0 L358.4 356.4 L358.7 357.4 L359.1 358.3 L360.0 358.5 L361.1 358.5 L361.7 359.1 L361.9 360.1 L362.4 360.8 L363.3 361.0 L364.2 361.3 L364.7 362.0 L365.2 362.7 L365.8 363.3 L366.5 363.7 L367.2 364.2 L367.8 364.8 L368.3 365.5 L368.9 366.1 L369.8 366.4 L370.6 367.4 L369.7 367.7 L368.8 367.9 L368.4 368.7 L368.3 369.8 L367.7 370.4 L366.6 370.5 L365.8 370.8 L365.5 371.7 L365.4 372.7 L364.7 373.2 L363.9 373.5 L363.3 374.1 L363.0 374.8 L362.6 375.5 L362.0 376.1 L361.4 376.6 L360.8 377.3 L360.8 378.2 L361.0 379.1 L360.8 379.9 L360.2 380.8 L360.1 381.7 L360.7 382.6 L360.8 383.5 L360.0 384.3 L359.6 385.4 L360.3 386.0 L361.1 386.6 L361.2 387.5 L361.1 388.4 L361.4 389.2 L361.9 389.9 L362.4 390.7 L362.5 391.5 L363.2 392.0 L363.9 392.4 L364.7 392.7 L365.4 393.0 L366.1 393.6 L366.6 394.3 L367.3 394.7 L368.3 394.7 L369.1 394.9 L369.6 395.8 L369.9 396.7 L370.8 396.9 L371.9 396.9 L372.5 397.5 L372.8 398.5 L373.4 399.1 L374.2 399.4 L375.1 399.7 L375.6 400.3 L376.2 401.0 L376.8 401.5 L377.6 401.9 L378.3 402.4 L378.8 403.1 L379.2 403.9 L379.9 404.4 L380.8 404.7 L381.5 405.2 L381.7 406.2 L382.0 407.1 L382.9 407.5 L383.9 407.1 L384.7 407.4 L385.3 408.3 L386.0 408.8 L386.9 408.7 L387.7 408.9" fill="none" stroke="#0000ff" stroke-width="1.15" stroke-linejoin="round"/><path d="M325.8 417.9 L326.8 418.9 L327.5 417.8 L328.2 416.2 L329.1 417.0 L330.2 418.7 L330.4 417.6 L332.3 417.1 L332.6 417.9 L332.0 419.6 L332.5 420.2 L333.9 420.1 L334.5 420.6 L334.6 421.7 L335.3 422.3 L336.1 422.4 L337.0 422.4 L337.6 423.0 L338.1 423.8 L338.8 424.2 L340.1 423.9 L340.9 424.4 L340.2 426.1 L340.5 427.0 L342.6 426.5 L343.4 427.1 L342.2 429.0 L342.9 430.1 L344.6 429.1 L345.5 429.4 L345.4 431.0 L345.9 431.7 L347.1 431.5 L347.9 431.8 L348.4 432.6 L348.9 433.4 L349.8 433.6 L350.7 433.8 L351.2 434.6 L351.3 435.7 L352.0 436.1 L353.5 435.7 L354.1 436.3 L353.6 438.1 L355.2 439.2 L355.4 436.7 L356.4 436.5 L358.0 438.2 L358.8 437.1 L358.8 435.6 L359.8 435.5 L361.0 435.8 L361.6 435.1 L361.9 434.1 L362.7 433.7 L363.6 433.5 L364.4 433.1 L364.9 432.2 L365.7 431.7 L366.7 432.6 L367.7 433.0 L368.4 431.4 L369.3 430.7 L370.4 432.6 L370.1 432.3 L372.1 432.1 L373.1 432.6 L372.2 434.0 L371.7 435.1 L372.9 435.4 L374.1 435.7 L374.0 436.7 L374.0 437.8 L374.8 438.3 L375.6 438.8 L376.1 439.6 L376.2 440.6 L376.9 441.2 L378.0 441.3 L378.6 442.1 L378.3 443.7 L379.4 443.9 L381.6 444.6 L380.7 445.2 L378.5 445.3 L378.9 446.4 L380.2 447.8 L379.3 448.5 L377.7 449.4 L378.6 450.1 L379.7 450.7 L379.7 451.7 L379.7 452.7 L380.4 453.5 L381.2 453.0 L382.1 453.2 L383.0 453.8 L383.8 453.4 L384.5 452.2 L384.7 452.7 L386.5 452.3 L386.8 451.5 L385.1 450.3 L384.8 449.3 L386.8 448.9 L387.8 448.3 L386.6 447.0 L387.0 445.9 L388.2 446.4 L389.3 446.7 L389.8 445.8 L390.7 445.0 L391.3 445.8 L391.9 446.6 L392.7 446.9 L393.8 447.0 L394.4 447.9 L393.6 448.9 L394.4 449.7 L395.8 450.4 L395.0 451.4 L394.1 453.5 L395.4 453.1 L397.2 452.2 L397.3 453.6 L397.1 455.4 L398.4 455.1 L399.0 454.6 L400.0 454.9 L401.0 455.2 L401.7 454.6 L402.4 453.9 L403.2 453.7 L404.1 453.7 L404.9 453.5 L405.7 452.6 L406.7 452.6 L407.1 454.1 L407.8 454.7 L409.3 453.4 L410.3 453.4 L410.3 455.6 L411.0 456.2 L412.8 454.8 L413.6 455.3 L413.7 457.2 L414.6 457.4 L415.6 456.7 L416.5 456.8 L417.5 457.2 L418.3 456.9 L419.1 456.3 L419.9 456.1 L420.6 456.4 L421.2 456.9 L422.4 456.7 L423.4 456.5 L423.5 457.8 L423.7 459.3 L424.9 458.8 L426.4 457.8 L426.8 458.7 L426.5 460.8 L427.3 461.1 L429.0 460.0 L429.7 460.5 L429.7 462.1 L430.3 462.7 L431.5 462.5 L432.3 462.8 L432.9 463.7 L433.7 463.3 L434.1 462.4 L434.6 461.6 L435.7 461.5 L436.8 461.4 L436.9 460.2 L437.0 458.9 L438.5 459.4 L440.0 459.8 L439.7 457.9 L439.7 456.4 L441.5 457.3 L442.8 457.5 L442.6 455.7 L443.5 454.5 L444.4 455.6 L445.3 455.9 L446.2 455.3 L447.1 455.1 L448.0 455.5 L448.9 455.7 L449.8 455.3 L450.8 455.0 L451.5 455.9 L452.3 456.8 L453.4 455.7 L455.4 455.5 L454.3 457.1 L453.8 458.4 L455.5 458.6" fill="none" stroke="#0000ff" stroke-width="1.15" stroke-linejoin="round"/><path d="M280.0 254.4 L269.3 260.7 L263.0 264.7 L262.2 267.8" fill="none" stroke="#0000ff" stroke-width="1.15" stroke-linejoin="round"/></g><path d="M309.8 84.6 L310.7 88.4 L315.7 89.3 L320.8 88.0 L317.0 85.9 L312.6 84.4Z" fill="#fff" stroke="#222" stroke-width="1.2"/><path d="M10.5 154.0 L35.0 140.0 L60.0 126.4 L85.0 108.0 L96.5 104.6 L96.5 98.8 L99.0 97.6 L102.8 98.3 L102.8 101.3 L122.8 96.8 L124.6 105.0 L122.3 107.6 L123.3 113.9 L125.3 118.0 L130.3 123.0 L142.0 122.7 L142.0 114.0 L146.6 113.0 L148.0 114.0 L151.6 111.0 L160.4 114.6 L173.0 117.6 L179.0 121.0 L180.0 130.0 L186.7 131.0 L191.7 129.0 L193.0 132.7 L200.5 130.0 L208.0 124.6 L213.0 124.0 L225.5 115.6 L231.8 110.0 L238.0 101.3 L235.6 97.0 L240.0 96.6 L252.0 96.3 L252.6 99.7 L259.0 101.0 L264.6 98.5 L264.0 95.3 L259.0 87.1 L260.2 82.7 L257.7 80.8 L270.3 74.5 L279.7 73.2 L280.4 75.8 L278.5 80.8 L279.0 85.9 L284.2 84.0 L293.0 86.2 L296.0 84.6 L296.8 80.8 L301.8 76.4 L306.9 69.5 L310.7 68.2 L315.7 70.1 L319.5 73.9 L320.0 78.9 L318.2 82.7 L318.9 86.5 L323.3 88.4 L326.4 85.9 L327.0 88.4 L330.2 92.2 L333.4 89.7 L341.0 80.8 L341.6 75.8 L345.4 72.0 L346.6 75.1 L351.7 75.8 L354.8 84.0 L350.4 92.8 L358.0 101.6 L359.2 108.6 L362.4 109.8 L368.0 107.3 L373.1 110.5 L371.9 119.3 L378.8 119.3 L386.3 119.6 L387.6 117.0 L397.0 119.9 L400.2 115.8 L403.3 114.9 L405.9 111.6 L410.3 112.6 L416.0 118.9 L416.3 128.4 L428.0 133.0 L429.8 136.0 L436.2 137.0 L441.2 134.7 L445.4 136.8 L445.9 142.9 L451.9 139.7 L456.3 144.4 L451.9 148.6 L450.0 151.7 L453.2 153.6 L451.3 156.2 L448.8 156.2 L449.4 161.2 L445.6 163.2 L444.4 168.8 L446.2 170.7 L445.6 175.8 L438.7 184.0 L443.7 185.9 L439.3 193.4 L435.5 195.3 L433.6 200.4 L429.2 202.9 L427.9 207.9 L430.5 213.6 L436.0 216.3 L436.6 223.9 L434.7 227.0 L441.6 226.4 L446.0 222.0 L450.5 227.0 L455.5 226.4 L461.8 225.1 L463.1 227.7 L471.9 225.8 L479.5 227.0 L483.0 229.6 L483.3 234.0 L493.4 234.0 L502.2 250.4 L501.6 254.8 L514.2 254.2 L511.0 261.1 L502.0 268.8 L503.9 274.5 L506.4 277.0 L509.6 282.7 L514.6 280.8 L520.9 281.5 L526.0 283.3 L525.4 289.0 L529.8 290.9 L529.8 296.6 L524.7 307.3 L531.0 311.7 L534.8 316.2 L534.2 318.7 L528.5 321.8 L524.7 318.7 L519.9 322.6 L518.6 328.9 L514.2 332.1 L507.3 334.6 L502.8 340.3 L505.4 344.1 L506.0 349.7 L499.7 351.6 L500.5 354.0 L501.8 357.5 L499.5 360.8 L496.5 360.0 L495.5 357.0 L496.8 354.5 L495.9 353.5 L492.7 352.9 L490.2 355.4 L485.8 354.8 L483.3 351.0 L475.7 352.3 L473.2 360.5 L466.2 364.3 L464.7 372.6 L461.0 376.4 L462.2 380.2 L455.9 387.1 L458.4 392.8 L450.2 397.9 L448.3 406.7 L444.5 411.7 L450.9 415.5 L447.3 418.2 L445.4 425.1 L447.3 434.0 L452.3 433.3 L458.6 444.1 L457.3 448.5 L462.4 447.2 L466.2 451.6 L463.0 458.1 L469.3 461.5 L468.7 467.2 L465.6 469.5 L461.8 477.1 L464.9 479.0 L463.7 482.1 L457.4 487.2 L449.8 484.0 L447.3 488.4 L441.0 489.0 L435.9 486.5 L433.4 486.5 L430.2 489.7 L428.3 496.0 L425.2 491.6 L420.8 491.0 L417.0 494.7 L409.4 497.9 L405.6 494.1 L408.1 491.6 L407.5 487.2 L405.0 484.6 L403.1 479.0 L399.3 473.9 L390.5 469.5 L386.7 473.9 L385.4 470.1 L389.2 465.1 L380.4 456.2 L377.2 458.1 L365.9 456.2 L365.2 452.5 L360.2 451.2 L357.3 443.1 L352.3 441.2 L343.5 436.2 L339.7 433.6 L335.9 433.6 L329.6 436.8 L322.6 435.5 L325.2 429.2 L322.0 423.5 L322.0 419.7 L325.2 416.6 L327.0 410.9 L323.3 403.3 L313.8 400.2 L313.8 395.1 L317.0 391.4 L318.2 383.8 L319.2 383.0 L317.4 378.0 L321.1 374.2 L322.4 370.4 L324.9 371.0 L324.9 365.3 L328.1 361.5 L325.6 358.4 L318.0 357.1 L312.3 360.3 L308.5 364.1 L307.3 367.9 L301.0 372.3 L299.1 376.7 L301.0 379.8 L300.3 391.8 L296.7 392.7 L285.4 394.6 L281.0 397.8 L277.2 401.5 L267.1 404.7 L262.6 402.8 L253.2 401.5 L247.5 397.8 L240.6 399.0 L231.7 400.3 L231.1 397.8 L224.8 395.9 L227.3 392.7 L223.5 387.0 L226.7 381.4 L231.7 379.5 L236.8 375.7 L233.4 369.1 L232.8 362.8 L226.5 362.8 L223.3 362.2 L225.9 355.9 L227.1 346.4 L230.9 340.7 L235.3 336.3 L234.1 332.5 L230.9 331.9 L227.8 335.7 L223.3 335.0 L222.6 328.0 L216.9 324.3 L208.7 314.2 L201.1 317.3 L191.0 320.5 L188.5 317.3 L180.9 314.8 L170.2 316.1 L168.3 323.0 L165.8 324.9 L162.0 319.8 L158.9 311.0 L160.8 306.6 L159.5 293.3 L152.6 283.9 L146.9 283.2 L137.4 285.8 L137.4 282.0 L139.9 278.2 L134.3 275.7 L130.5 281.4 L120.4 284.5 L114.1 280.7 L108.4 276.9 L107.9 273.7 L107.9 263.0 L106.0 257.3 L102.8 249.1 L106.0 244.7 L104.7 238.4 L98.4 237.1 L96.5 231.5 L90.9 220.1 L85.8 218.8 L82.0 223.2 L78.2 222.0 L75.1 223.9 L63.1 228.9 L61.2 232.1 L61.2 237.1 L57.4 240.3 L53.0 237.8 L49.8 233.3 L44.8 234.6 L41.0 231.5 L40.4 227.7 L36.6 223.9 L33.4 217.6 L30.3 213.2 L21.5 213.2 L18.9 207.4 L16.4 204.9 L18.9 203.6 L18.3 192.3 L15.8 191.0 L21.5 185.3 L18.9 175.2 L13.9 172.7 L12.0 156.3Z" fill="none" stroke="#222" stroke-width="1.6" stroke-linejoin="round"/><ellipse cx="331.9" cy="81.7" rx="2.3" ry="3.2" transform="rotate(35 331.9 81.7)" fill="#222"/></g>
<rect x="563" y="448.00" width="26" height="44.30" fill="#313695"/><rect x="563" y="404.00" width="26" height="44.30" fill="#4a7bb7"/><rect x="563" y="360.00" width="26" height="44.30" fill="#8fc3dd"/><rect x="563" y="316.00" width="26" height="44.30" fill="#d3ecf4"/><rect x="563" y="272.00" width="26" height="44.30" fill="#ffffbf"/><rect x="563" y="228.00" width="26" height="44.30" fill="#fed384"/><rect x="563" y="184.00" width="26" height="44.30" fill="#f88d52"/><rect x="563" y="140.00" width="26" height="44.30" fill="#de3f2e"/><rect x="563" y="96.00" width="26" height="44.30" fill="#a50026"/><text x="600.8" y="498.1" font-size="14.67">2.5</text><text x="600.8" y="454.1" font-size="14.67">3</text><text x="600.8" y="410.1" font-size="14.67">3.5</text><text x="600.8" y="366.1" font-size="14.67">4</text><text x="600.8" y="322.1" font-size="14.67">4.5</text><text x="600.8" y="278.1" font-size="14.67">5</text><text x="600.8" y="234.1" font-size="14.67">5.5</text><text x="600.8" y="190.1" font-size="14.67">6</text><text x="600.8" y="146.1" font-size="14.67">6.5</text><text x="600.8" y="102.1" font-size="14.67">7</text>
<rect x="1203" y="393.00" width="26" height="99.30" fill="#ffffbf"/><rect x="1203" y="294.00" width="26" height="99.30" fill="#fdba6c"/><rect x="1203" y="195.00" width="26" height="99.30" fill="#ea593a"/><rect x="1203" y="96.00" width="26" height="99.30" fill="#a50026"/><text x="1240.8" y="498.1" font-size="14.67">0.5</text><text x="1240.8" y="399.1" font-size="14.67">1</text><text x="1240.8" y="300.1" font-size="14.67">1.5</text><text x="1240.8" y="201.1" font-size="14.67">2</text><text x="1240.8" y="102.1" font-size="14.67">2.5</text>
</svg>
</body></html>
